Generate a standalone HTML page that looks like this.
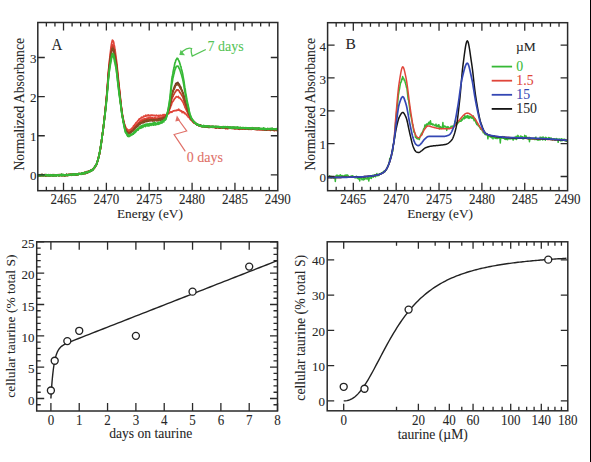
<!DOCTYPE html>
<html><head><meta charset="utf-8"><style>
html,body{margin:0;padding:0;background:#fff;}
body{width:591px;height:462px;overflow:hidden;position:relative;font-family:"Liberation Serif", serif;}
svg{display:block;}
</style></head><body>
<svg width="591" height="462" viewBox="0 0 591 462" font-family='"Liberation Serif", serif'><rect width="591" height="462" fill="#fff"/><defs><clipPath id="ca"><rect x="37.8" y="22.5" width="240" height="168.2"/></clipPath><clipPath id="cb"><rect x="327.6" y="22.7" width="240" height="168"/></clipPath></defs><g clip-path="url(#ca)"><path d="M37.8 174.65 L38.23 176.09 L38.66 175.16 L39.09 175.47 L39.51 175.43 L39.94 175.36 L40.37 175.92 L40.8 175.36 L41.23 175.56 L41.66 174.25 L42.09 175.21 L42.51 175.39 L42.94 175.37 L43.37 175.49 L43.8 175.61 L44.23 175.4 L44.66 175.13 L45.09 175.35 L45.51 174.97 L45.94 175.33 L46.37 175.26 L46.8 174.78 L47.23 175.09 L47.66 175.42 L48.09 175.32 L48.51 175.09 L48.94 174.65 L49.37 175.33 L49.8 175.32 L50.23 174.93 L50.66 175.52 L51.09 175.33 L51.51 174.96 L51.94 175.05 L52.37 175.2 L52.8 175.01 L53.23 176.1 L53.66 174.9 L54.09 175.51 L54.51 175.73 L54.94 175.12 L55.37 174.98 L55.8 175.33 L56.23 175.53 L56.66 175.18 L57.09 175.2 L57.51 174.73 L57.94 174.94 L58.37 175.1 L58.8 174.81 L59.23 175.22 L59.66 175.44 L60.09 174.96 L60.51 174.96 L60.94 175.2 L61.37 175.37 L61.8 175.05 L62.23 175.89 L62.66 174.89 L63.09 174.95 L63.51 175.61 L63.94 175.07 L64.37 175.38 L64.8 174.83 L65.23 175.69 L65.66 175.33 L66.09 174.81 L66.51 174.65 L66.94 175.67 L67.37 175.13 L67.8 174.85 L68.23 175.12 L68.66 174.41 L69.09 175.25 L69.51 174.74 L69.94 175.15 L70.37 174.36 L70.8 174.78 L71.23 174.86 L71.66 175.25 L72.09 174.15 L72.51 174.41 L72.94 174.37 L73.37 174.22 L73.8 174.43 L74.23 174.7 L74.66 174.72 L75.09 174.68 L75.51 173.96 L75.94 174.81 L76.37 174.5 L76.8 174.37 L77.23 174.16 L77.66 174 L78.09 174.53 L78.51 174.62 L78.94 174.03 L79.37 173.59 L79.8 173.67 L80.23 173.78 L80.66 173.88 L81.09 173.62 L81.51 173.71 L81.94 173.31 L82.37 173.73 L82.8 173.36 L83.23 173.35 L83.66 173.06 L84.09 173.07 L84.51 172.24 L84.94 172.47 L85.37 172.37 L85.8 173.37 L86.23 172.72 L86.66 172.68 L87.09 172.19 L87.51 172.93 L87.94 171.7 L88.37 171.57 L88.8 172.14 L89.23 171.86 L89.66 171.61 L90.09 171.14 L90.51 170.74 L90.94 170.07 L91.37 170.53 L91.8 169.96 L92.23 169.87 L92.66 169.03 L93.09 168.96 L93.51 168.34 L93.94 168.62 L94.37 167.82 L94.8 167.43 L95.23 166.07 L95.66 165.65 L96.09 165.21 L96.51 164.38 L96.94 162.99 L97.37 162.08 L97.8 160.7 L98.23 158.67 L98.66 156.35 L99.09 155.41 L99.51 153.53 L99.94 151.48 L100.37 149.04 L100.8 145.76 L101.23 142.8 L101.66 140.06 L102.09 136.87 L102.51 133.78 L102.94 130.5 L103.37 127.57 L103.8 123.61 L104.23 119.65 L104.66 115.99 L105.09 111.8 L105.51 107.69 L105.94 103.18 L106.37 98.33 L106.8 93.78 L107.23 88.12 L107.66 81.92 L108.09 76.06 L108.51 70.09 L108.94 66.23 L109.37 61.15 L109.8 57.88 L110.23 53.93 L110.66 50.09 L111.09 46.69 L111.51 43.86 L111.94 41.95 L112.37 40.14 L112.8 40.4 L113.23 41.01 L113.66 42.17 L114.09 44.67 L114.51 46.34 L114.94 49.5 L115.37 52.04 L115.8 55.56 L116.23 58.7 L116.66 62.05 L117.09 65.77 L117.51 70.34 L117.94 74.32 L118.37 78.74 L118.8 82.41 L119.23 87.06 L119.66 90.45 L120.09 95.09 L120.51 99.35 L120.94 103.37 L121.37 107.41 L121.8 110.55 L122.23 113.37 L122.66 116.15 L123.09 118.13 L123.51 119.8 L123.94 122.05 L124.37 123.7 L124.8 125.25 L125.23 126.81 L125.66 126.92 L126.09 128.4 L126.51 128.29 L126.94 129.08 L127.37 129.22 L127.8 129.98 L128.23 130.46 L128.66 130.18 L129.09 130.41 L129.51 130.12 L129.94 129.8 L130.37 129.54 L130.8 129.19 L131.23 129 L131.66 128.39 L132.09 128.61 L132.51 127.58 L132.94 127.42 L133.37 126.16 L133.8 125.54 L134.23 125.95 L134.66 124.68 L135.09 124.16 L135.51 123.86 L135.94 122.81 L136.37 122.61 L136.8 122.53 L137.23 121.56 L137.66 121.01 L138.09 120.43 L138.51 120.37 L138.94 119.34 L139.37 118.88 L139.8 119.1 L140.23 118.62 L140.66 118.19 L141.09 118.12 L141.51 117.18 L141.94 117.45 L142.37 117.63 L142.8 117.36 L143.23 116.94 L143.66 116.02 L144.09 116.62 L144.51 116.36 L144.94 116.08 L145.37 116.11 L145.8 115.25 L146.23 116.01 L146.66 115.5 L147.09 115.59 L147.51 115.37 L147.94 115.87 L148.37 114.91 L148.8 115.47 L149.23 115.41 L149.66 115.72 L150.09 115.66 L150.51 115.27 L150.94 115.15 L151.37 115.25 L151.8 115.13 L152.23 115.31 L152.66 115.55 L153.09 115.33 L153.51 115.43 L153.94 115.68 L154.37 115.45 L154.8 115.3 L155.23 115.66 L155.66 115.86 L156.09 115.55 L156.51 115.19 L156.94 115.87 L157.37 115.84 L157.8 115.86 L158.23 115.43 L158.66 116.37 L159.09 115.66 L159.51 115.38 L159.94 115.97 L160.37 115.21 L160.8 115.46 L161.23 115.75 L161.66 115.46 L162.09 115.94 L162.51 115.58 L162.94 114.76 L163.37 115.54 L163.8 114.61 L164.23 115.14 L164.66 114.72 L165.09 114.92 L165.51 115.51 L165.94 114.83 L166.37 114.4 L166.8 114.62 L167.23 114.47 L167.66 113.7 L168.09 113.79 L168.51 113.88 L168.94 113.33 L169.37 112.62 L169.8 112.82 L170.23 112.18 L170.66 111.81 L171.09 112.11 L171.51 112.29 L171.94 112.15 L172.37 111.55 L172.8 111.07 L173.23 111.07 L173.66 110.79 L174.09 110.92 L174.51 110.52 L174.94 110.6 L175.37 110.41 L175.8 110.59 L176.23 110.58 L176.66 110.16 L177.09 110.31 L177.51 110.24 L177.94 109.75 L178.37 110.05 L178.8 109.19 L179.23 109.93 L179.66 110.56 L180.09 110.28 L180.51 110.59 L180.94 111.12 L181.37 110.78 L181.8 111.59 L182.23 112.54 L182.66 111.57 L183.09 112.25 L183.51 111.83 L183.94 112.75 L184.37 113.23 L184.8 112.72 L185.23 113.92 L185.66 113.94 L186.09 113.99 L186.51 114.87 L186.94 115.41 L187.37 115.85 L187.8 116.12 L188.23 117.15 L188.66 117.21 L189.09 117.72 L189.51 117.67 L189.94 118.98 L190.37 119.62 L190.8 119.54 L191.23 120.31 L191.66 120.47 L192.09 120.86 L192.51 120.86 L192.94 121.75 L193.37 121.9 L193.8 123 L194.23 122.8 L194.66 122.37 L195.09 123.38 L195.51 123.69 L195.94 124.15 L196.37 123.88 L196.8 124.28 L197.23 124.97 L197.66 124.64 L198.09 124.99 L198.51 125.05 L198.94 125.67 L199.37 125.1 L199.8 125.65 L200.23 125.94 L200.66 126.15 L201.09 126.14 L201.51 125.86 L201.94 126.28 L202.37 125.92 L202.8 126.14 L203.23 125.96 L203.66 126.18 L204.09 126.51 L204.51 127.14 L204.94 126.5 L205.37 126.4 L205.8 126.64 L206.23 126.56 L206.66 126.93 L207.09 126.94 L207.51 127.16 L207.94 126.47 L208.37 126.89 L208.8 127.13 L209.23 127.42 L209.66 127.09 L210.09 126.62 L210.51 126.96 L210.94 127.36 L211.37 126.71 L211.8 126.74 L212.23 126.91 L212.66 127 L213.09 126.91 L213.51 127.13 L213.94 127.08 L214.37 127.59 L214.8 126.9 L215.23 127.33 L215.66 126.79 L216.09 128.09 L216.51 127.25 L216.94 127.19 L217.37 127.63 L217.8 127.41 L218.23 127.34 L218.66 127.42 L219.09 127.8 L219.51 127.7 L219.94 127.36 L220.37 127.3 L220.8 127.7 L221.23 127.73 L221.66 127.71 L222.09 127.47 L222.51 128.15 L222.94 128.26 L223.37 127.82 L223.8 128.23 L224.23 128.09 L224.66 127.9 L225.09 127.8 L225.51 128.3 L225.94 127.74 L226.37 128.56 L226.8 127.86 L227.23 128.54 L227.66 128.46 L228.09 127.88 L228.51 128.23 L228.94 128.37 L229.37 128.28 L229.8 128.01 L230.23 128.19 L230.66 128.2 L231.09 127.88 L231.51 128.45 L231.94 128.39 L232.37 128.43 L232.8 127.91 L233.23 127.99 L233.66 127.91 L234.09 128.34 L234.51 128.4 L234.94 128.1 L235.37 128.51 L235.8 128.14 L236.23 128.19 L236.66 128.65 L237.09 128.48 L237.51 128.51 L237.94 127.95 L238.37 127.7 L238.8 128.55 L239.23 128.54 L239.66 129.27 L240.09 128.51 L240.51 128.6 L240.94 128.95 L241.37 128.39 L241.8 129.14 L242.23 128.74 L242.66 128.64 L243.09 129.1 L243.51 128.46 L243.94 128.42 L244.37 129.2 L244.8 129.23 L245.23 128.62 L245.66 128.83 L246.09 129.22 L246.51 128.96 L246.94 128.92 L247.37 128.95 L247.8 128.66 L248.23 128.82 L248.66 128.41 L249.09 128.55 L249.51 128.79 L249.94 128.68 L250.37 128.63 L250.8 128.84 L251.23 129.46 L251.66 128.83 L252.09 129.1 L252.51 128.63 L252.94 129.13 L253.37 129.01 L253.8 129.09 L254.23 128.69 L254.66 129.18 L255.09 129.34 L255.51 129.18 L255.94 129.43 L256.37 129.26 L256.8 129.34 L257.23 129.27 L257.66 128.77 L258.09 129.52 L258.51 129.4 L258.94 129.49 L259.37 129.24 L259.8 129.84 L260.23 129.71 L260.66 129.52 L261.09 129.36 L261.51 129.56 L261.94 129.72 L262.37 129.86 L262.8 129.45 L263.23 129.18 L263.66 129.55 L264.09 129.61 L264.51 129.55 L264.94 130 L265.37 129.82 L265.8 129.83 L266.23 129.67 L266.66 129.79 L267.09 130.18 L267.51 129.47 L267.94 129.31 L268.37 129.94 L268.8 129.76 L269.23 129.82 L269.66 129.67 L270.09 130.4 L270.51 129.45 L270.94 130.13 L271.37 129.6 L271.8 129.99 L272.23 130.16 L272.66 130.1 L273.09 129.8 L273.51 130.37 L273.94 130.23 L274.37 130.29 L274.8 130.69 L275.23 129.77 L275.66 130.01 L276.09 130.22 L276.51 129.87 L276.94 130.55 L277.37 130.3 L277.8 129.75" stroke="#e0453a" stroke-width="1.7" fill="none" stroke-linejoin="round" opacity="1"/><path d="M37.8 174.98 L38.23 175.99 L38.66 176.33 L39.09 175.62 L39.51 174.96 L39.94 175.44 L40.37 175.36 L40.8 175.1 L41.23 175.56 L41.66 175.22 L42.09 175.04 L42.51 175.14 L42.94 175.16 L43.37 175.47 L43.8 175.12 L44.23 175.41 L44.66 174.87 L45.09 174.47 L45.51 175.5 L45.94 175.95 L46.37 175.4 L46.8 175.15 L47.23 174.94 L47.66 174.92 L48.09 175.5 L48.51 175.5 L48.94 174.86 L49.37 175.59 L49.8 174.91 L50.23 175.32 L50.66 175 L51.09 175.02 L51.51 174.99 L51.94 174.97 L52.37 175.54 L52.8 175.13 L53.23 175.21 L53.66 175.12 L54.09 174.83 L54.51 175.29 L54.94 175.43 L55.37 175.43 L55.8 175.29 L56.23 174.95 L56.66 175.44 L57.09 174.82 L57.51 175.08 L57.94 175.24 L58.37 175.58 L58.8 175.08 L59.23 174.94 L59.66 175.7 L60.09 174.77 L60.51 174.62 L60.94 175.03 L61.37 174.97 L61.8 174.36 L62.23 174.73 L62.66 175.39 L63.09 175.11 L63.51 175.14 L63.94 175.14 L64.37 175.82 L64.8 174.83 L65.23 175.26 L65.66 174.99 L66.09 175.07 L66.51 174.74 L66.94 175.08 L67.37 175.22 L67.8 174.78 L68.23 174.49 L68.66 175.01 L69.09 174.45 L69.51 174.77 L69.94 174.99 L70.37 174.32 L70.8 175.03 L71.23 174.42 L71.66 174.86 L72.09 174.53 L72.51 175.03 L72.94 174.87 L73.37 174.24 L73.8 174.48 L74.23 174.49 L74.66 174.6 L75.09 174.29 L75.51 174.83 L75.94 174.7 L76.37 174.36 L76.8 174.53 L77.23 174.45 L77.66 174.21 L78.09 174.18 L78.51 174.15 L78.94 173.51 L79.37 173.65 L79.8 173.52 L80.23 173.85 L80.66 173.94 L81.09 174.16 L81.51 173.75 L81.94 174.21 L82.37 173.67 L82.8 173.16 L83.23 172.81 L83.66 172.92 L84.09 173.41 L84.51 172.89 L84.94 173.19 L85.37 172.58 L85.8 172.77 L86.23 172.35 L86.66 171.69 L87.09 172.07 L87.51 171.49 L87.94 172.01 L88.37 172.01 L88.8 171.32 L89.23 171.02 L89.66 171.54 L90.09 171.13 L90.51 171.39 L90.94 170.77 L91.37 170.19 L91.8 170.23 L92.23 170.09 L92.66 170.02 L93.09 169.08 L93.51 168.52 L93.94 168.1 L94.37 167.68 L94.8 167.57 L95.23 165.99 L95.66 165.87 L96.09 165.16 L96.51 164.01 L96.94 163.82 L97.37 161.88 L97.8 160.45 L98.23 158.71 L98.66 156.7 L99.09 155.19 L99.51 153.93 L99.94 151.2 L100.37 148.53 L100.8 145.84 L101.23 143.42 L101.66 140.54 L102.09 136.77 L102.51 133.71 L102.94 130.6 L103.37 127.75 L103.8 123.13 L104.23 120.91 L104.66 116.3 L105.09 111.57 L105.51 108.19 L105.94 103.86 L106.37 99.98 L106.8 94.41 L107.23 89.86 L107.66 83.7 L108.09 78.05 L108.51 73.03 L108.94 67.61 L109.37 64.41 L109.8 60.72 L110.23 57.03 L110.66 53.78 L111.09 50.43 L111.51 47.66 L111.94 46.02 L112.37 44.86 L112.8 44.54 L113.23 45.1 L113.66 46.08 L114.09 48.33 L114.51 50.48 L114.94 53.25 L115.37 56.21 L115.8 58.34 L116.23 61.81 L116.66 64.88 L117.09 68.21 L117.51 73.06 L117.94 76.91 L118.37 81.56 L118.8 85.27 L119.23 89.36 L119.66 92.73 L120.09 96.64 L120.51 100.33 L120.94 103.71 L121.37 107.79 L121.8 111.06 L122.23 114.3 L122.66 116.91 L123.09 119.29 L123.51 121.64 L123.94 122.95 L124.37 124.21 L124.8 126.11 L125.23 127.71 L125.66 128.02 L126.09 129.43 L126.51 130.15 L126.94 130.94 L127.37 131.37 L127.8 131.54 L128.23 131.1 L128.66 131.88 L129.09 132.09 L129.51 131.8 L129.94 131.45 L130.37 131.62 L130.8 130.71 L131.23 130.17 L131.66 129.93 L132.09 129.49 L132.51 129.7 L132.94 129.4 L133.37 127.99 L133.8 127.54 L134.23 127.83 L134.66 126.74 L135.09 126.25 L135.51 125.55 L135.94 125.14 L136.37 124.88 L136.8 124.2 L137.23 123.74 L137.66 123.33 L138.09 123.44 L138.51 123.35 L138.94 122.24 L139.37 122.11 L139.8 121.17 L140.23 120.73 L140.66 120.62 L141.09 120.61 L141.51 120.26 L141.94 119.72 L142.37 120.12 L142.8 119.41 L143.23 119.29 L143.66 119.25 L144.09 118.71 L144.51 119.23 L144.94 118.56 L145.37 119 L145.8 118.82 L146.23 118.79 L146.66 118.21 L147.09 118.55 L147.51 118.15 L147.94 118.45 L148.37 117.7 L148.8 117.42 L149.23 117.9 L149.66 117.43 L150.09 117.76 L150.51 117.25 L150.94 117.89 L151.37 118.42 L151.8 117.46 L152.23 117.98 L152.66 118.27 L153.09 118.16 L153.51 118.48 L153.94 118.03 L154.37 118.32 L154.8 117.53 L155.23 117.79 L155.66 118.52 L156.09 118.48 L156.51 118.18 L156.94 118.59 L157.37 118.01 L157.8 117.96 L158.23 118.16 L158.66 118.05 L159.09 117.68 L159.51 117.33 L159.94 117.25 L160.37 117.63 L160.8 117.29 L161.23 117.7 L161.66 117.23 L162.09 117.55 L162.51 116.9 L162.94 117.39 L163.37 117.17 L163.8 116.72 L164.23 116.39 L164.66 116.84 L165.09 116.37 L165.51 115.94 L165.94 115.6 L166.37 115.5 L166.8 114.66 L167.23 114.14 L167.66 112.9 L168.09 112.39 L168.51 112.17 L168.94 111.61 L169.37 110.06 L169.8 108.76 L170.23 107.93 L170.66 106.46 L171.09 105.62 L171.51 104.67 L171.94 102.92 L172.37 102.25 L172.8 101.33 L173.23 101.25 L173.66 100.06 L174.09 99.64 L174.51 98.56 L174.94 98.41 L175.37 97.92 L175.8 97.48 L176.23 96.57 L176.66 96.73 L177.09 96.87 L177.51 96.96 L177.94 97.08 L178.37 96.5 L178.8 97.81 L179.23 97.86 L179.66 97.81 L180.09 98.1 L180.51 99.02 L180.94 99.26 L181.37 99.81 L181.8 100.3 L182.23 101.2 L182.66 101.41 L183.09 102.65 L183.51 103.08 L183.94 104.81 L184.37 105.13 L184.8 106.82 L185.23 107.91 L185.66 108.29 L186.09 109.68 L186.51 110.21 L186.94 111.59 L187.37 111.69 L187.8 113.12 L188.23 114.41 L188.66 114.92 L189.09 115.58 L189.51 116.95 L189.94 117.34 L190.37 117.59 L190.8 118.61 L191.23 119.44 L191.66 120.11 L192.09 120.21 L192.51 121.29 L192.94 122.19 L193.37 121.86 L193.8 122.38 L194.23 121.87 L194.66 122.74 L195.09 123.43 L195.51 123.81 L195.94 123.6 L196.37 124.29 L196.8 124.48 L197.23 124.57 L197.66 124.75 L198.09 124.97 L198.51 125.16 L198.94 124.97 L199.37 125.01 L199.8 126.2 L200.23 124.99 L200.66 125.85 L201.09 125.58 L201.51 126.27 L201.94 126 L202.37 126.1 L202.8 126.19 L203.23 126.01 L203.66 126.13 L204.09 126.69 L204.51 126.46 L204.94 126.24 L205.37 126.3 L205.8 126.66 L206.23 126.68 L206.66 126.68 L207.09 127.02 L207.51 127.11 L207.94 126.25 L208.37 126.9 L208.8 126.78 L209.23 127.07 L209.66 126.46 L210.09 126.34 L210.51 126.99 L210.94 126.78 L211.37 127.21 L211.8 126.44 L212.23 126.73 L212.66 127.31 L213.09 126.68 L213.51 126.98 L213.94 126.99 L214.37 127.03 L214.8 127.37 L215.23 127.35 L215.66 127.01 L216.09 127.25 L216.51 127.55 L216.94 126.64 L217.37 127.37 L217.8 127.5 L218.23 127.57 L218.66 127.16 L219.09 127.1 L219.51 127.35 L219.94 127.18 L220.37 127.94 L220.8 127.61 L221.23 127.67 L221.66 127.54 L222.09 127.41 L222.51 128.22 L222.94 126.63 L223.37 127.9 L223.8 127.54 L224.23 127.41 L224.66 127.43 L225.09 127.64 L225.51 128.65 L225.94 128.1 L226.37 127.54 L226.8 128.08 L227.23 128.15 L227.66 128.57 L228.09 127.47 L228.51 127.72 L228.94 128.17 L229.37 127.96 L229.8 127.97 L230.23 128.3 L230.66 128.06 L231.09 127.91 L231.51 127.84 L231.94 127.63 L232.37 128.04 L232.8 128.21 L233.23 127.96 L233.66 128.3 L234.09 128.51 L234.51 127.78 L234.94 128.28 L235.37 128.14 L235.8 127.99 L236.23 128.56 L236.66 128.03 L237.09 128.1 L237.51 128.29 L237.94 128.16 L238.37 128.54 L238.8 129.01 L239.23 128.42 L239.66 128.64 L240.09 128.1 L240.51 128.31 L240.94 128.57 L241.37 128.41 L241.8 128.02 L242.23 128.11 L242.66 128.36 L243.09 128.36 L243.51 128.6 L243.94 128.58 L244.37 128.37 L244.8 128.61 L245.23 128.5 L245.66 128.96 L246.09 129.15 L246.51 129.18 L246.94 128.81 L247.37 128.27 L247.8 128.34 L248.23 129.04 L248.66 129.23 L249.09 128.51 L249.51 128.64 L249.94 129.23 L250.37 128.49 L250.8 128.78 L251.23 128.44 L251.66 128.77 L252.09 128.61 L252.51 128.81 L252.94 129.23 L253.37 129.02 L253.8 129.18 L254.23 128.73 L254.66 129.32 L255.09 129.5 L255.51 128.83 L255.94 128.7 L256.37 128.63 L256.8 128.76 L257.23 129.59 L257.66 129.35 L258.09 129.33 L258.51 129.18 L258.94 129.86 L259.37 129.21 L259.8 129.14 L260.23 129.54 L260.66 129.23 L261.09 128.91 L261.51 129.29 L261.94 128.99 L262.37 129.02 L262.8 129.23 L263.23 129.25 L263.66 129.51 L264.09 129.02 L264.51 129.58 L264.94 129.67 L265.37 129.24 L265.8 129.71 L266.23 129.37 L266.66 129.19 L267.09 129.51 L267.51 129.52 L267.94 129.29 L268.37 129.36 L268.8 130.09 L269.23 130.04 L269.66 129.23 L270.09 129.54 L270.51 130.33 L270.94 130.12 L271.37 129.71 L271.8 130.04 L272.23 129.6 L272.66 129.74 L273.09 129.63 L273.51 130.17 L273.94 129.63 L274.37 129.23 L274.8 130.11 L275.23 129.46 L275.66 129.58 L276.09 129.71 L276.51 129.95 L276.94 130.31 L277.37 130.24 L277.8 129.74" stroke="#e0453a" stroke-width="1.7" fill="none" stroke-linejoin="round" opacity="1"/><path d="M37.8 174.98 L38.23 174.9 L38.66 174.98 L39.09 175 L39.51 175.42 L39.94 175.66 L40.37 175.22 L40.8 175.12 L41.23 175.25 L41.66 175.76 L42.09 175.44 L42.51 175.74 L42.94 175.23 L43.37 175.6 L43.8 175.32 L44.23 175.17 L44.66 175.23 L45.09 174.84 L45.51 175.61 L45.94 175.95 L46.37 174.96 L46.8 174.82 L47.23 174.81 L47.66 175.16 L48.09 175.08 L48.51 175.21 L48.94 175.65 L49.37 175.42 L49.8 175.08 L50.23 175.42 L50.66 174.63 L51.09 175.71 L51.51 175.36 L51.94 174.87 L52.37 175.41 L52.8 175.57 L53.23 175.64 L53.66 175.43 L54.09 174.73 L54.51 175.07 L54.94 175.03 L55.37 175.35 L55.8 174.92 L56.23 175.15 L56.66 175.46 L57.09 175.31 L57.51 175.1 L57.94 174.79 L58.37 175.17 L58.8 174.99 L59.23 174.51 L59.66 175.39 L60.09 175.52 L60.51 174.82 L60.94 174.98 L61.37 175.15 L61.8 175.03 L62.23 175.21 L62.66 174.94 L63.09 175.2 L63.51 174.83 L63.94 175.44 L64.37 175.32 L64.8 175.02 L65.23 175.19 L65.66 174.81 L66.09 175.03 L66.51 175.17 L66.94 174.92 L67.37 175.13 L67.8 175.43 L68.23 175.27 L68.66 175.14 L69.09 175.02 L69.51 174.81 L69.94 174.53 L70.37 174.61 L70.8 174.2 L71.23 174.33 L71.66 174.75 L72.09 174.14 L72.51 174.26 L72.94 174.74 L73.37 174.46 L73.8 174.18 L74.23 174.41 L74.66 174.13 L75.09 174.29 L75.51 174.16 L75.94 174.44 L76.37 174.18 L76.8 174.37 L77.23 174 L77.66 174.7 L78.09 174.02 L78.51 173.68 L78.94 173.83 L79.37 173.96 L79.8 173.73 L80.23 174.1 L80.66 174.02 L81.09 173.81 L81.51 173.67 L81.94 173.24 L82.37 173.75 L82.8 173.07 L83.23 173.79 L83.66 173.46 L84.09 173.13 L84.51 172.66 L84.94 173.12 L85.37 173.5 L85.8 172.59 L86.23 172.61 L86.66 172.82 L87.09 172.67 L87.51 172.42 L87.94 172.02 L88.37 171.69 L88.8 172.19 L89.23 170.82 L89.66 171.36 L90.09 171.26 L90.51 170.71 L90.94 170.66 L91.37 169.72 L91.8 169.85 L92.23 170.02 L92.66 169.69 L93.09 169.34 L93.51 168.86 L93.94 168.06 L94.37 167.95 L94.8 166.66 L95.23 166.55 L95.66 165.89 L96.09 164.81 L96.51 164.84 L96.94 163.42 L97.37 161.66 L97.8 160.39 L98.23 158.82 L98.66 156.99 L99.09 155.51 L99.51 153.39 L99.94 151.5 L100.37 149.15 L100.8 145.46 L101.23 143.27 L101.66 140.21 L102.09 136.48 L102.51 133.47 L102.94 130.77 L103.37 127.43 L103.8 123.8 L104.23 120.45 L104.66 116.22 L105.09 112.45 L105.51 108.45 L105.94 104.12 L106.37 99.89 L106.8 94.84 L107.23 89.67 L107.66 85.11 L108.09 78.72 L108.51 74.07 L108.94 69.48 L109.37 65 L109.8 62.11 L110.23 58.63 L110.66 54.96 L111.09 52.55 L111.51 50.1 L111.94 47.78 L112.37 46.32 L112.8 46.24 L113.23 47.47 L113.66 48.48 L114.09 50.18 L114.51 51.79 L114.94 54.64 L115.37 57.27 L115.8 59.74 L116.23 63.03 L116.66 66.12 L117.09 69.84 L117.51 74.29 L117.94 78.11 L118.37 82.04 L118.8 86.53 L119.23 89.64 L119.66 93.28 L120.09 96.93 L120.51 101.26 L120.94 104.69 L121.37 107.83 L121.8 111.35 L122.23 114.82 L122.66 117.06 L123.09 118.93 L123.51 121.47 L123.94 123.26 L124.37 124.37 L124.8 126.8 L125.23 128.19 L125.66 129.53 L126.09 130.22 L126.51 130.21 L126.94 131.33 L127.37 132.18 L127.8 132.5 L128.23 132.47 L128.66 132.33 L129.09 132.75 L129.51 132.15 L129.94 132.31 L130.37 131.76 L130.8 131.39 L131.23 131.02 L131.66 131 L132.09 130.58 L132.51 130.02 L132.94 130.18 L133.37 129.27 L133.8 128.69 L134.23 128.02 L134.66 127.84 L135.09 127.37 L135.51 126.76 L135.94 126.55 L136.37 125.92 L136.8 125.28 L137.23 124.86 L137.66 124.82 L138.09 124.15 L138.51 124.28 L138.94 122.97 L139.37 123.01 L139.8 122.43 L140.23 122.56 L140.66 122 L141.09 121.63 L141.51 121.26 L141.94 121.8 L142.37 120.91 L142.8 121.04 L143.23 121.05 L143.66 120.49 L144.09 120.57 L144.51 120.41 L144.94 120.39 L145.37 119.96 L145.8 119.88 L146.23 119.83 L146.66 119.96 L147.09 119.72 L147.51 119.35 L147.94 119 L148.37 119.34 L148.8 118.84 L149.23 119.25 L149.66 119.56 L150.09 118.99 L150.51 119.48 L150.94 119.04 L151.37 118.82 L151.8 119.25 L152.23 119.18 L152.66 118.37 L153.09 119.07 L153.51 119.07 L153.94 118.9 L154.37 119.18 L154.8 119.17 L155.23 119.02 L155.66 119.88 L156.09 118.68 L156.51 119.44 L156.94 119.42 L157.37 118.89 L157.8 119.02 L158.23 119.37 L158.66 118.86 L159.09 119.23 L159.51 119.02 L159.94 119.19 L160.37 118.88 L160.8 118.4 L161.23 118.37 L161.66 118.19 L162.09 117.86 L162.51 118.02 L162.94 118.05 L163.37 117.76 L163.8 116.97 L164.23 117.28 L164.66 116.98 L165.09 116.88 L165.51 116.5 L165.94 116.06 L166.37 115.63 L166.8 114.96 L167.23 114.31 L167.66 113.37 L168.09 111.94 L168.51 110.73 L168.94 109.54 L169.37 108.68 L169.8 107.62 L170.23 105.55 L170.66 103.78 L171.09 102.62 L171.51 100.15 L171.94 98.68 L172.37 97.13 L172.8 97 L173.23 96.06 L173.66 94.45 L174.09 94.33 L174.51 93.14 L174.94 92.47 L175.37 91.76 L175.8 91.46 L176.23 90.49 L176.66 89.81 L177.09 89.83 L177.51 89.86 L177.94 90.26 L178.37 89.98 L178.8 90.65 L179.23 90.96 L179.66 92.32 L180.09 92.34 L180.51 93.47 L180.94 93.7 L181.37 94.46 L181.8 95.59 L182.23 95.98 L182.66 96.62 L183.09 97.89 L183.51 99.01 L183.94 100.7 L184.37 101.93 L184.8 103.39 L185.23 104.33 L185.66 105.31 L186.09 106.79 L186.51 108.09 L186.94 109.56 L187.37 110.22 L187.8 111.59 L188.23 113.25 L188.66 114.31 L189.09 114.96 L189.51 116.16 L189.94 116.31 L190.37 117.68 L190.8 118.77 L191.23 119.24 L191.66 119.15 L192.09 120.45 L192.51 120.4 L192.94 120.97 L193.37 121.1 L193.8 121.82 L194.23 122.52 L194.66 122.61 L195.09 123.11 L195.51 123.16 L195.94 123.79 L196.37 123.43 L196.8 124.33 L197.23 124.41 L197.66 124.98 L198.09 124.94 L198.51 125.17 L198.94 125.3 L199.37 125.24 L199.8 125.82 L200.23 126.04 L200.66 125.53 L201.09 126.04 L201.51 126.23 L201.94 125.73 L202.37 125.91 L202.8 127.03 L203.23 126.37 L203.66 126.06 L204.09 126.09 L204.51 126.56 L204.94 125.95 L205.37 126.73 L205.8 126.59 L206.23 126.52 L206.66 126.59 L207.09 126.38 L207.51 126.34 L207.94 126.7 L208.37 126.29 L208.8 126.96 L209.23 126.84 L209.66 126.27 L210.09 126.8 L210.51 126.52 L210.94 127.01 L211.37 126.99 L211.8 126.96 L212.23 126.9 L212.66 127.08 L213.09 126.99 L213.51 126.81 L213.94 126.66 L214.37 127.02 L214.8 126.88 L215.23 126.82 L215.66 127.46 L216.09 127.63 L216.51 126.66 L216.94 126.78 L217.37 127.2 L217.8 127.13 L218.23 127.55 L218.66 127.72 L219.09 127.21 L219.51 127.8 L219.94 127.07 L220.37 127.59 L220.8 127.31 L221.23 126.82 L221.66 126.86 L222.09 127.55 L222.51 127.16 L222.94 127.83 L223.37 127.71 L223.8 127.44 L224.23 127.14 L224.66 127.77 L225.09 127.45 L225.51 127.6 L225.94 128.05 L226.37 127.72 L226.8 127.23 L227.23 127.75 L227.66 127.58 L228.09 127.5 L228.51 128 L228.94 127.41 L229.37 127.34 L229.8 127.33 L230.23 127.44 L230.66 128.01 L231.09 128.07 L231.51 128.15 L231.94 128.21 L232.37 128.19 L232.8 127.65 L233.23 127.52 L233.66 128.2 L234.09 127.76 L234.51 128.43 L234.94 128.16 L235.37 128.38 L235.8 128.6 L236.23 128.09 L236.66 128.1 L237.09 128.27 L237.51 128.33 L237.94 128.49 L238.37 128.24 L238.8 128.4 L239.23 128.16 L239.66 128.63 L240.09 128.2 L240.51 128.13 L240.94 127.92 L241.37 128 L241.8 128.28 L242.23 128.58 L242.66 128.95 L243.09 128.4 L243.51 127.98 L243.94 127.92 L244.37 129.25 L244.8 128.71 L245.23 128.6 L245.66 128.84 L246.09 128.47 L246.51 128.54 L246.94 128.73 L247.37 128.6 L247.8 129.1 L248.23 128.93 L248.66 128.92 L249.09 128.38 L249.51 129.19 L249.94 128.76 L250.37 128.47 L250.8 128.75 L251.23 128.5 L251.66 128.97 L252.09 128.65 L252.51 128.52 L252.94 128.12 L253.37 128.61 L253.8 128.41 L254.23 128.87 L254.66 128.86 L255.09 128.42 L255.51 128.75 L255.94 128.5 L256.37 128.74 L256.8 128.32 L257.23 128.26 L257.66 129.28 L258.09 128.45 L258.51 128.92 L258.94 128.92 L259.37 129.12 L259.8 128.88 L260.23 129.47 L260.66 129.37 L261.09 129.4 L261.51 129.08 L261.94 128.9 L262.37 128.98 L262.8 129.11 L263.23 129.43 L263.66 129.81 L264.09 129.15 L264.51 129.25 L264.94 129.2 L265.37 128.88 L265.8 129.41 L266.23 129.43 L266.66 130.11 L267.09 129.23 L267.51 129.43 L267.94 129.67 L268.37 129.33 L268.8 129.8 L269.23 129.66 L269.66 128.89 L270.09 129.29 L270.51 129.25 L270.94 129.32 L271.37 129.37 L271.8 129.53 L272.23 128.89 L272.66 129.65 L273.09 129.41 L273.51 129.73 L273.94 129.79 L274.37 130.46 L274.8 130.31 L275.23 129.24 L275.66 129.28 L276.09 129.9 L276.51 129.79 L276.94 129.6 L277.37 130.12 L277.8 129.27" stroke="#c8402c" stroke-width="1.7" fill="none" stroke-linejoin="round" opacity="1"/><path d="M37.8 175.61 L38.23 175.51 L38.66 176.15 L39.09 174.81 L39.51 175.27 L39.94 174.78 L40.37 175.6 L40.8 175.18 L41.23 175.26 L41.66 175.22 L42.09 174.63 L42.51 174.57 L42.94 174.85 L43.37 175.4 L43.8 175 L44.23 174.85 L44.66 175.1 L45.09 175.09 L45.51 175.12 L45.94 175.55 L46.37 175.19 L46.8 174.76 L47.23 175.57 L47.66 175.23 L48.09 174.99 L48.51 175.68 L48.94 175.29 L49.37 175.78 L49.8 175.43 L50.23 175.68 L50.66 175.52 L51.09 175.39 L51.51 175.32 L51.94 175.29 L52.37 175.98 L52.8 174.72 L53.23 175.3 L53.66 175.56 L54.09 175.41 L54.51 175.11 L54.94 175.52 L55.37 175.33 L55.8 175.34 L56.23 175.02 L56.66 175.42 L57.09 175.04 L57.51 175.07 L57.94 175.22 L58.37 174.78 L58.8 175.15 L59.23 175.52 L59.66 175.06 L60.09 175.1 L60.51 175.15 L60.94 175.06 L61.37 174.39 L61.8 175.05 L62.23 174.97 L62.66 175.19 L63.09 174.69 L63.51 175.11 L63.94 175.34 L64.37 175.46 L64.8 174.9 L65.23 174.82 L65.66 175.54 L66.09 175.25 L66.51 174.81 L66.94 174.67 L67.37 175.39 L67.8 175.08 L68.23 174.67 L68.66 175.07 L69.09 175.02 L69.51 175.02 L69.94 175.24 L70.37 174.78 L70.8 174.67 L71.23 175.18 L71.66 174.68 L72.09 174.33 L72.51 174.58 L72.94 174.31 L73.37 174.75 L73.8 174.11 L74.23 174.75 L74.66 173.88 L75.09 174.57 L75.51 174.62 L75.94 174.63 L76.37 174.44 L76.8 174.43 L77.23 174.45 L77.66 174.29 L78.09 173.93 L78.51 173.81 L78.94 174.13 L79.37 173.58 L79.8 174.22 L80.23 174.17 L80.66 174.13 L81.09 173.52 L81.51 174.12 L81.94 174 L82.37 173.08 L82.8 172.87 L83.23 172.9 L83.66 173.7 L84.09 173.13 L84.51 172.78 L84.94 172.92 L85.37 173.35 L85.8 172.84 L86.23 173.15 L86.66 172.88 L87.09 171.69 L87.51 172.01 L87.94 172.53 L88.37 172.38 L88.8 171.6 L89.23 171.75 L89.66 171.18 L90.09 171.36 L90.51 171 L90.94 170.64 L91.37 170.79 L91.8 170.81 L92.23 170.29 L92.66 169.8 L93.09 169.26 L93.51 168.79 L93.94 168.31 L94.37 167.6 L94.8 167.46 L95.23 166.11 L95.66 165.23 L96.09 165.01 L96.51 164.18 L96.94 162.76 L97.37 161.66 L97.8 160.36 L98.23 158.88 L98.66 157.36 L99.09 155.71 L99.51 153.15 L99.94 150.71 L100.37 148.9 L100.8 145.87 L101.23 142.9 L101.66 140.11 L102.09 137.15 L102.51 133.94 L102.94 131.27 L103.37 127.37 L103.8 124 L104.23 119.68 L104.66 116.35 L105.09 112.93 L105.51 108.89 L105.94 104.3 L106.37 100.17 L106.8 96.02 L107.23 90.95 L107.66 85.91 L108.09 80.11 L108.51 74.91 L108.94 70.53 L109.37 66.07 L109.8 63.99 L110.23 60.23 L110.66 56.96 L111.09 54.13 L111.51 51.34 L111.94 50.46 L112.37 49.13 L112.8 48.58 L113.23 49.13 L113.66 50.53 L114.09 52.42 L114.51 54.01 L114.94 57.1 L115.37 59.47 L115.8 61.33 L116.23 63.97 L116.66 67.51 L117.09 71.72 L117.51 75.65 L117.94 79.72 L118.37 83.84 L118.8 87.52 L119.23 90.61 L119.66 94.45 L120.09 98.36 L120.51 102 L120.94 105.69 L121.37 108.38 L121.8 112.61 L122.23 114.83 L122.66 117.94 L123.09 120.1 L123.51 122.34 L123.94 123.55 L124.37 125.74 L124.8 126.54 L125.23 129.17 L125.66 130.32 L126.09 130.63 L126.51 131.31 L126.94 132.19 L127.37 133.27 L127.8 132.6 L128.23 133.14 L128.66 133.29 L129.09 133.55 L129.51 133.03 L129.94 133.19 L130.37 132.74 L130.8 132.51 L131.23 131.73 L131.66 131.95 L132.09 131.59 L132.51 130.81 L132.94 130.71 L133.37 130.37 L133.8 129.99 L134.23 129.15 L134.66 129.17 L135.09 128.34 L135.51 127.37 L135.94 127.41 L136.37 127.34 L136.8 127.03 L137.23 126.17 L137.66 126.16 L138.09 125.85 L138.51 125.18 L138.94 124.9 L139.37 123.93 L139.8 124.33 L140.23 123.1 L140.66 123.6 L141.09 123.13 L141.51 122.75 L141.94 122.7 L142.37 122.36 L142.8 122.71 L143.23 122.94 L143.66 122.12 L144.09 122.42 L144.51 121.92 L144.94 121.3 L145.37 121.52 L145.8 121.51 L146.23 121.56 L146.66 121.18 L147.09 121.04 L147.51 121.39 L147.94 120.72 L148.37 121.08 L148.8 120.61 L149.23 120.77 L149.66 120.28 L150.09 120.29 L150.51 120.53 L150.94 120.54 L151.37 120.35 L151.8 120.04 L152.23 120.13 L152.66 120.4 L153.09 120.34 L153.51 119.93 L153.94 120.93 L154.37 120.24 L154.8 120.67 L155.23 119.95 L155.66 120.51 L156.09 120.37 L156.51 120.64 L156.94 120.26 L157.37 119.98 L157.8 119.66 L158.23 120.52 L158.66 120.19 L159.09 118.75 L159.51 119.6 L159.94 119.79 L160.37 119.52 L160.8 120.39 L161.23 118.92 L161.66 119.23 L162.09 119.56 L162.51 118.57 L162.94 118.94 L163.37 118.85 L163.8 118.14 L164.23 117.94 L164.66 117.95 L165.09 117.55 L165.51 117.63 L165.94 117.2 L166.37 115.76 L166.8 114.73 L167.23 113.92 L167.66 112.72 L168.09 111.63 L168.51 110.14 L168.94 108.94 L169.37 106.63 L169.8 105.63 L170.23 103.2 L170.66 100.98 L171.09 99 L171.51 95.65 L171.94 94.34 L172.37 92.9 L172.8 91.33 L173.23 90.37 L173.66 88.84 L174.09 87.96 L174.51 86.38 L174.94 85.53 L175.37 85.09 L175.8 83.59 L176.23 83.28 L176.66 83.31 L177.09 82.68 L177.51 82.69 L177.94 82.45 L178.37 83.66 L178.8 83.61 L179.23 84.51 L179.66 84.99 L180.09 86.04 L180.51 86.81 L180.94 87.5 L181.37 88.93 L181.8 90.11 L182.23 90.45 L182.66 91.79 L183.09 92.98 L183.51 94.29 L183.94 96.14 L184.37 97.34 L184.8 99.41 L185.23 101.03 L185.66 102.42 L186.09 104.04 L186.51 105.66 L186.94 106.95 L187.37 108.6 L187.8 109.95 L188.23 111.09 L188.66 112.21 L189.09 113.89 L189.51 114.7 L189.94 115.47 L190.37 116.42 L190.8 117.96 L191.23 118.35 L191.66 119.11 L192.09 119.63 L192.51 120.16 L192.94 120.77 L193.37 121.17 L193.8 121.83 L194.23 122.41 L194.66 122.65 L195.09 122.95 L195.51 123.06 L195.94 123.64 L196.37 123.79 L196.8 123.83 L197.23 124.8 L197.66 124.81 L198.09 124.77 L198.51 125.12 L198.94 125.62 L199.37 125.15 L199.8 125.62 L200.23 126.03 L200.66 125.22 L201.09 126.3 L201.51 125.98 L201.94 126.25 L202.37 126.07 L202.8 125.97 L203.23 126.46 L203.66 126.28 L204.09 126.33 L204.51 126.65 L204.94 126.01 L205.37 126.36 L205.8 126.54 L206.23 126.69 L206.66 126.62 L207.09 126.51 L207.51 126.73 L207.94 126.22 L208.37 127.44 L208.8 127.34 L209.23 126.77 L209.66 127.3 L210.09 126.76 L210.51 126.97 L210.94 126.61 L211.37 126.68 L211.8 126.42 L212.23 126.56 L212.66 126.48 L213.09 126.73 L213.51 126.58 L213.94 126.78 L214.37 127.14 L214.8 127.37 L215.23 127.37 L215.66 126.86 L216.09 127.78 L216.51 127 L216.94 127.31 L217.37 126.87 L217.8 127.06 L218.23 127.38 L218.66 127.17 L219.09 127.91 L219.51 127.13 L219.94 127.09 L220.37 127.84 L220.8 127.01 L221.23 127.34 L221.66 127.27 L222.09 127.79 L222.51 127.18 L222.94 127.21 L223.37 127.42 L223.8 127.74 L224.23 127.21 L224.66 127.08 L225.09 127.37 L225.51 127.2 L225.94 127.72 L226.37 127.5 L226.8 127.45 L227.23 127.55 L227.66 126.73 L228.09 127.5 L228.51 127.82 L228.94 127.41 L229.37 128.03 L229.8 127.59 L230.23 127.48 L230.66 127.89 L231.09 127.86 L231.51 128.07 L231.94 127.75 L232.37 128.02 L232.8 127.29 L233.23 127.65 L233.66 127.94 L234.09 128.33 L234.51 127.26 L234.94 127.51 L235.37 127.79 L235.8 127.89 L236.23 127.92 L236.66 128.14 L237.09 127.42 L237.51 127.96 L237.94 128.5 L238.37 128.27 L238.8 128.89 L239.23 127.89 L239.66 127.88 L240.09 127.58 L240.51 127.5 L240.94 128.42 L241.37 128.05 L241.8 127.9 L242.23 127.98 L242.66 128.4 L243.09 128.01 L243.51 128.13 L243.94 127.87 L244.37 128.33 L244.8 128.41 L245.23 128.51 L245.66 128.49 L246.09 128.63 L246.51 128.52 L246.94 128.27 L247.37 128.3 L247.8 128.05 L248.23 128.14 L248.66 128.3 L249.09 128.88 L249.51 128.36 L249.94 128.19 L250.37 128.98 L250.8 128.94 L251.23 128.91 L251.66 128.96 L252.09 128.74 L252.51 128.96 L252.94 128.56 L253.37 129.08 L253.8 128.76 L254.23 128.9 L254.66 129.06 L255.09 128.45 L255.51 128.78 L255.94 128.64 L256.37 128.93 L256.8 128.62 L257.23 128.67 L257.66 128.93 L258.09 129.45 L258.51 128.66 L258.94 128.71 L259.37 128.89 L259.8 128.89 L260.23 128.94 L260.66 128.94 L261.09 129.33 L261.51 129.05 L261.94 128.95 L262.37 129.26 L262.8 129.39 L263.23 128.52 L263.66 128.93 L264.09 129.23 L264.51 129.31 L264.94 130 L265.37 129.63 L265.8 129.28 L266.23 128.81 L266.66 129.88 L267.09 129.47 L267.51 128.67 L267.94 129.07 L268.37 129.17 L268.8 128.94 L269.23 129.37 L269.66 129.4 L270.09 129.14 L270.51 129.11 L270.94 129.73 L271.37 128.94 L271.8 129.98 L272.23 129.66 L272.66 128.5 L273.09 129.64 L273.51 129.29 L273.94 129.82 L274.37 129.63 L274.8 129.77 L275.23 129.68 L275.66 129.37 L276.09 129.04 L276.51 129.33 L276.94 129.13 L277.37 129.79 L277.8 129.19" stroke="#6b3b1e" stroke-width="1.7" fill="none" stroke-linejoin="round" opacity="1"/><path d="M37.8 175.09 L38.23 174.84 L38.66 175.4 L39.09 175.34 L39.51 174.84 L39.94 175.08 L40.37 175.24 L40.8 175.48 L41.23 175.3 L41.66 175.12 L42.09 175.04 L42.51 175.44 L42.94 175.37 L43.37 175.13 L43.8 175.61 L44.23 174.97 L44.66 175.27 L45.09 175.31 L45.51 176.02 L45.94 175.76 L46.37 175.59 L46.8 175.45 L47.23 175.61 L47.66 175.14 L48.09 175.22 L48.51 175.34 L48.94 175.89 L49.37 174.81 L49.8 175.33 L50.23 175.06 L50.66 175.45 L51.09 175.24 L51.51 175.02 L51.94 175.16 L52.37 174.93 L52.8 175.28 L53.23 174.6 L53.66 175.81 L54.09 175.39 L54.51 174.9 L54.94 175.28 L55.37 175.34 L55.8 175.75 L56.23 174.82 L56.66 175.78 L57.09 175.02 L57.51 175.12 L57.94 174.9 L58.37 174.71 L58.8 175.38 L59.23 175.41 L59.66 175.25 L60.09 175.69 L60.51 174.89 L60.94 175.26 L61.37 175.08 L61.8 175.48 L62.23 175.12 L62.66 175.31 L63.09 175.13 L63.51 175.45 L63.94 174.78 L64.37 175.29 L64.8 175.88 L65.23 174.87 L65.66 175.15 L66.09 175.32 L66.51 174.24 L66.94 175.02 L67.37 175.4 L67.8 175.16 L68.23 174.82 L68.66 174.99 L69.09 174.5 L69.51 174.53 L69.94 175.09 L70.37 174.8 L70.8 174.58 L71.23 174.88 L71.66 174.87 L72.09 174.41 L72.51 174.51 L72.94 175.06 L73.37 174.76 L73.8 174.68 L74.23 174.55 L74.66 174.7 L75.09 174.02 L75.51 174.71 L75.94 174.7 L76.37 174.26 L76.8 174.99 L77.23 174.57 L77.66 174 L78.09 174.56 L78.51 174.36 L78.94 173.7 L79.37 173.84 L79.8 173.9 L80.23 173.78 L80.66 174 L81.09 173.62 L81.51 173.71 L81.94 172.79 L82.37 173.32 L82.8 173.52 L83.23 173.34 L83.66 173.22 L84.09 173.58 L84.51 173.31 L84.94 172.47 L85.37 173.29 L85.8 172.92 L86.23 172.3 L86.66 172.03 L87.09 172.69 L87.51 171.77 L87.94 172.19 L88.37 171.4 L88.8 171.59 L89.23 171.65 L89.66 171.14 L90.09 170.99 L90.51 171.19 L90.94 170.04 L91.37 170.58 L91.8 169.85 L92.23 170.07 L92.66 170.16 L93.09 169.55 L93.51 168.8 L93.94 168.08 L94.37 167.21 L94.8 167.15 L95.23 166.64 L95.66 166.25 L96.09 165.14 L96.51 164.15 L96.94 163.84 L97.37 161.45 L97.8 160.06 L98.23 158.12 L98.66 157.41 L99.09 155.33 L99.51 153.35 L99.94 151.5 L100.37 148.84 L100.8 146.16 L101.23 142.82 L101.66 139.85 L102.09 136.5 L102.51 133.95 L102.94 131.08 L103.37 127.2 L103.8 123.77 L104.23 120.09 L104.66 116.2 L105.09 112.94 L105.51 108.56 L105.94 105.05 L106.37 100.51 L106.8 95.72 L107.23 90.78 L107.66 85.2 L108.09 80.23 L108.51 74.82 L108.94 69.99 L109.37 66.7 L109.8 63.36 L110.23 59.07 L110.66 56.63 L111.09 54.12 L111.51 51.76 L111.94 49.14 L112.37 49.31 L112.8 48.26 L113.23 48.53 L113.66 50.15 L114.09 51.61 L114.51 54.29 L114.94 56.41 L115.37 58.94 L115.8 61.45 L116.23 64.17 L116.66 67.48 L117.09 70.82 L117.51 75.2 L117.94 79.37 L118.37 83.34 L118.8 87.27 L119.23 91.29 L119.66 94.94 L120.09 98.4 L120.51 101.55 L120.94 105.44 L121.37 108.82 L121.8 111.04 L122.23 114.53 L122.66 117.52 L123.09 119.92 L123.51 121.39 L123.94 124.03 L124.37 125.25 L124.8 127.12 L125.23 128.3 L125.66 130.08 L126.09 130.39 L126.51 131.92 L126.94 132.02 L127.37 132.16 L127.8 132.69 L128.23 133.75 L128.66 133.05 L129.09 133.08 L129.51 133.1 L129.94 133.09 L130.37 132.69 L130.8 132.47 L131.23 131.67 L131.66 131.49 L132.09 130.98 L132.51 130.76 L132.94 131 L133.37 130.13 L133.8 129.05 L134.23 129.59 L134.66 128.67 L135.09 128.51 L135.51 128.06 L135.94 127.24 L136.37 126.57 L136.8 126.18 L137.23 125.83 L137.66 125.24 L138.09 125.61 L138.51 124.43 L138.94 124.17 L139.37 124 L139.8 123.62 L140.23 123.6 L140.66 122.73 L141.09 123.13 L141.51 123.15 L141.94 122.5 L142.37 122.49 L142.8 122.15 L143.23 121.47 L143.66 121.82 L144.09 121.58 L144.51 120.75 L144.94 121.75 L145.37 121.06 L145.8 120.68 L146.23 120.45 L146.66 120.1 L147.09 120.91 L147.51 120.42 L147.94 120.56 L148.37 120.6 L148.8 120.63 L149.23 120.81 L149.66 120.21 L150.09 120.05 L150.51 120.59 L150.94 120 L151.37 120.4 L151.8 120.53 L152.23 121.02 L152.66 119.84 L153.09 119.96 L153.51 120.28 L153.94 120.29 L154.37 120.57 L154.8 119.99 L155.23 120.16 L155.66 119.95 L156.09 120.04 L156.51 120.52 L156.94 120.53 L157.37 119.87 L157.8 120.49 L158.23 119.82 L158.66 119.56 L159.09 120.17 L159.51 119.47 L159.94 119.58 L160.37 119.31 L160.8 119.56 L161.23 119.24 L161.66 118.95 L162.09 118.35 L162.51 118.53 L162.94 118.41 L163.37 118.78 L163.8 118.05 L164.23 118.13 L164.66 117.69 L165.09 117.31 L165.51 116.78 L165.94 116.46 L166.37 115.91 L166.8 115.12 L167.23 113.65 L167.66 113.19 L168.09 111.63 L168.51 109.87 L168.94 108.98 L169.37 107.26 L169.8 105.6 L170.23 103.24 L170.66 101.27 L171.09 99.86 L171.51 97.16 L171.94 95.14 L172.37 93.48 L172.8 92.39 L173.23 90.7 L173.66 89.77 L174.09 89.36 L174.51 88.13 L174.94 87.63 L175.37 85.59 L175.8 85.47 L176.23 84.93 L176.66 85.02 L177.09 84.5 L177.51 84.26 L177.94 84.72 L178.37 85.06 L178.8 85.6 L179.23 85.36 L179.66 86.83 L180.09 87.85 L180.51 88.36 L180.94 89.14 L181.37 89.91 L181.8 90.82 L182.23 92.06 L182.66 92.91 L183.09 94.03 L183.51 96 L183.94 96.44 L184.37 98.1 L184.8 100.82 L185.23 101.95 L185.66 103.07 L186.09 104.44 L186.51 105.66 L186.94 108.12 L187.37 109.21 L187.8 110.36 L188.23 111.35 L188.66 113.15 L189.09 113.92 L189.51 115.08 L189.94 116.08 L190.37 117.69 L190.8 118.07 L191.23 118.81 L191.66 119.57 L192.09 119.59 L192.51 120.62 L192.94 120.57 L193.37 121.7 L193.8 121.43 L194.23 121.87 L194.66 123.06 L195.09 123.06 L195.51 123.41 L195.94 124.12 L196.37 123.83 L196.8 124.14 L197.23 124.84 L197.66 124.76 L198.09 124.71 L198.51 125.24 L198.94 125.59 L199.37 125 L199.8 125.97 L200.23 125.66 L200.66 125.51 L201.09 125.7 L201.51 126.61 L201.94 126.19 L202.37 126.19 L202.8 126.26 L203.23 126.05 L203.66 126.12 L204.09 126.29 L204.51 126.29 L204.94 126.09 L205.37 126.06 L205.8 127.09 L206.23 125.83 L206.66 126.73 L207.09 126.34 L207.51 127.14 L207.94 126.81 L208.37 127.08 L208.8 126.36 L209.23 126.45 L209.66 126.75 L210.09 126.83 L210.51 126.68 L210.94 127.12 L211.37 127.04 L211.8 127.11 L212.23 126.63 L212.66 126.9 L213.09 127.34 L213.51 126.84 L213.94 126.81 L214.37 126.55 L214.8 127.19 L215.23 126.91 L215.66 126.39 L216.09 127.18 L216.51 127.21 L216.94 126.96 L217.37 127.3 L217.8 127.17 L218.23 127.35 L218.66 127.46 L219.09 126.96 L219.51 127.38 L219.94 127.6 L220.37 127.4 L220.8 127.37 L221.23 127.26 L221.66 127.08 L222.09 126.83 L222.51 127.81 L222.94 127.52 L223.37 128.04 L223.8 127.41 L224.23 127.34 L224.66 127.73 L225.09 127.84 L225.51 127.88 L225.94 128.06 L226.37 127.41 L226.8 127.02 L227.23 128.01 L227.66 127.15 L228.09 127.73 L228.51 128.15 L228.94 127.55 L229.37 127.51 L229.8 127.65 L230.23 127.87 L230.66 127.28 L231.09 127.92 L231.51 127.65 L231.94 127.66 L232.37 128.17 L232.8 128.49 L233.23 128.47 L233.66 128.07 L234.09 127.85 L234.51 128.55 L234.94 128.23 L235.37 127.53 L235.8 128.61 L236.23 127.91 L236.66 127.96 L237.09 127.84 L237.51 128.58 L237.94 128.02 L238.37 128.59 L238.8 127.74 L239.23 128.46 L239.66 128.08 L240.09 128.47 L240.51 128.2 L240.94 128.74 L241.37 128.19 L241.8 128.1 L242.23 128.32 L242.66 127.82 L243.09 128.23 L243.51 128.12 L243.94 128.22 L244.37 127.81 L244.8 128.63 L245.23 128.52 L245.66 128.53 L246.09 128.28 L246.51 128.41 L246.94 128.24 L247.37 128.43 L247.8 128.71 L248.23 128.58 L248.66 128.44 L249.09 129.32 L249.51 128.17 L249.94 128.81 L250.37 128.76 L250.8 128.58 L251.23 128.76 L251.66 129.16 L252.09 128.79 L252.51 128.29 L252.94 128.42 L253.37 128.38 L253.8 128.96 L254.23 128.87 L254.66 128.48 L255.09 128.36 L255.51 128.84 L255.94 129.18 L256.37 129.5 L256.8 128.45 L257.23 129.41 L257.66 128.8 L258.09 128.67 L258.51 127.93 L258.94 128.92 L259.37 129.04 L259.8 128.87 L260.23 128.87 L260.66 128.62 L261.09 128.85 L261.51 129.33 L261.94 129.78 L262.37 129.02 L262.8 129.35 L263.23 128.7 L263.66 129.59 L264.09 129.12 L264.51 129.44 L264.94 129.5 L265.37 128.7 L265.8 129.2 L266.23 129.32 L266.66 129.04 L267.09 129.55 L267.51 129.43 L267.94 129.54 L268.37 128.71 L268.8 129.26 L269.23 129.18 L269.66 129.04 L270.09 129.48 L270.51 129.48 L270.94 129.98 L271.37 129.31 L271.8 129.4 L272.23 129.63 L272.66 129.12 L273.09 130.11 L273.51 129.41 L273.94 130.01 L274.37 129.95 L274.8 129.66 L275.23 129.18 L275.66 130.01 L276.09 129.97 L276.51 130.05 L276.94 129.02 L277.37 129.52 L277.8 129.57" stroke="#8a4a22" stroke-width="1.7" fill="none" stroke-linejoin="round" opacity="1"/><path d="M37.8 174.62 L38.23 175.21 L38.66 175.97 L39.09 175.46 L39.51 175.68 L39.94 174.63 L40.37 175.75 L40.8 175.19 L41.23 175.46 L41.66 175.43 L42.09 175.28 L42.51 175.33 L42.94 175.51 L43.37 175.69 L43.8 175.49 L44.23 175.62 L44.66 175.57 L45.09 175.24 L45.51 175.33 L45.94 175.12 L46.37 175.35 L46.8 174.64 L47.23 175.51 L47.66 175.59 L48.09 174.93 L48.51 175.49 L48.94 175.22 L49.37 174.94 L49.8 175.28 L50.23 175.36 L50.66 174.93 L51.09 175.13 L51.51 175.41 L51.94 175.62 L52.37 175.35 L52.8 175.77 L53.23 175.51 L53.66 175.58 L54.09 175.12 L54.51 174.96 L54.94 175.42 L55.37 175.35 L55.8 175.56 L56.23 175.65 L56.66 175.33 L57.09 175 L57.51 175.03 L57.94 174.99 L58.37 175.26 L58.8 176.06 L59.23 174.86 L59.66 174.73 L60.09 174.85 L60.51 174.85 L60.94 174.78 L61.37 174.26 L61.8 175.02 L62.23 174.61 L62.66 174.85 L63.09 174.88 L63.51 175.14 L63.94 175.2 L64.37 175.45 L64.8 174.88 L65.23 175.16 L65.66 175.43 L66.09 175.28 L66.51 175.4 L66.94 174.47 L67.37 175.05 L67.8 174.92 L68.23 175.32 L68.66 175.24 L69.09 174.54 L69.51 174.93 L69.94 174.76 L70.37 174.2 L70.8 174.09 L71.23 174.52 L71.66 174.55 L72.09 174.6 L72.51 174.74 L72.94 173.95 L73.37 174.97 L73.8 174.57 L74.23 175.13 L74.66 174.88 L75.09 174.3 L75.51 174.24 L75.94 174.24 L76.37 174.42 L76.8 174.5 L77.23 174.4 L77.66 174.31 L78.09 173.78 L78.51 173.61 L78.94 173.88 L79.37 174.15 L79.8 174.21 L80.23 173.75 L80.66 173.85 L81.09 174.3 L81.51 173.19 L81.94 173.56 L82.37 173.59 L82.8 173.68 L83.23 173.6 L83.66 172.93 L84.09 173.44 L84.51 173.01 L84.94 172.74 L85.37 172.24 L85.8 172.54 L86.23 172.63 L86.66 172.63 L87.09 172.08 L87.51 171.89 L87.94 172.21 L88.37 171.72 L88.8 171.78 L89.23 172.08 L89.66 171.69 L90.09 170.89 L90.51 170.47 L90.94 170.49 L91.37 170.53 L91.8 170.44 L92.23 169.74 L92.66 169.47 L93.09 169.72 L93.51 168.55 L93.94 168.52 L94.37 167.54 L94.8 167 L95.23 166.31 L95.66 165.51 L96.09 164.89 L96.51 164.58 L96.94 163.47 L97.37 161.52 L97.8 160.26 L98.23 159.34 L98.66 157.78 L99.09 155.04 L99.51 152.62 L99.94 150.79 L100.37 148.6 L100.8 145.71 L101.23 143.8 L101.66 140.24 L102.09 136.54 L102.51 133.53 L102.94 131.4 L103.37 127.11 L103.8 124 L104.23 120.43 L104.66 117.26 L105.09 113.54 L105.51 110.14 L105.94 105.82 L106.37 101.67 L106.8 97.89 L107.23 92.54 L107.66 87.66 L108.09 81.99 L108.51 77.17 L108.94 73.99 L109.37 69.69 L109.8 66.6 L110.23 64.22 L110.66 61.35 L111.09 58.82 L111.51 57.01 L111.94 55.05 L112.37 53.51 L112.8 53.61 L113.23 53.77 L113.66 55.04 L114.09 56.56 L114.51 58.86 L114.94 60.83 L115.37 62.72 L115.8 65.17 L116.23 68.1 L116.66 71.54 L117.09 75.14 L117.51 78.55 L117.94 82.4 L118.37 87.03 L118.8 90.09 L119.23 93.47 L119.66 96.74 L120.09 100.31 L120.51 102.67 L120.94 106.38 L121.37 110.26 L121.8 113.06 L122.23 115.4 L122.66 118.11 L123.09 120.62 L123.51 122.85 L123.94 124.97 L124.37 127.05 L124.8 129.11 L125.23 130.22 L125.66 132.62 L126.09 132.88 L126.51 132.94 L126.94 134.24 L127.37 134.92 L127.8 134.35 L128.23 134.91 L128.66 135.4 L129.09 135.5 L129.51 135.26 L129.94 135.11 L130.37 134.85 L130.8 134.75 L131.23 134.05 L131.66 134.13 L132.09 134.27 L132.51 133.82 L132.94 133.09 L133.37 133.08 L133.8 133.19 L134.23 131.52 L134.66 131.44 L135.09 131.35 L135.51 130.95 L135.94 130.21 L136.37 129.52 L136.8 129.76 L137.23 129.03 L137.66 128.97 L138.09 128.28 L138.51 128.39 L138.94 128.27 L139.37 127.33 L139.8 127.09 L140.23 126.58 L140.66 126.81 L141.09 125.96 L141.51 126.18 L141.94 125.53 L142.37 125.96 L142.8 125.19 L143.23 125.53 L143.66 125.31 L144.09 124.89 L144.51 125.63 L144.94 125.26 L145.37 124.18 L145.8 125.14 L146.23 124.69 L146.66 124.23 L147.09 123.83 L147.51 124.36 L147.94 124.06 L148.37 124.38 L148.8 124.06 L149.23 123.52 L149.66 123.68 L150.09 123.74 L150.51 123.54 L150.94 123.58 L151.37 123.53 L151.8 123.66 L152.23 123.83 L152.66 123.26 L153.09 123.81 L153.51 123.08 L153.94 122.69 L154.37 122.85 L154.8 122.55 L155.23 123.6 L155.66 123.14 L156.09 123.43 L156.51 123.35 L156.94 123.6 L157.37 123.37 L157.8 122.62 L158.23 122.58 L158.66 122.32 L159.09 122.23 L159.51 122.22 L159.94 122.59 L160.37 122.21 L160.8 121.77 L161.23 121.41 L161.66 121.73 L162.09 121.54 L162.51 121.28 L162.94 120.35 L163.37 120.39 L163.8 120.36 L164.23 120.16 L164.66 119.4 L165.09 119.68 L165.51 118.78 L165.94 118.24 L166.37 117.22 L166.8 115.62 L167.23 113.94 L167.66 111.25 L168.09 110.19 L168.51 107.86 L168.94 106.13 L169.37 104.16 L169.8 100.59 L170.23 97 L170.66 94.25 L171.09 90.14 L171.51 86.13 L171.94 83.29 L172.37 81.66 L172.8 78.59 L173.23 77.02 L173.66 74.84 L174.09 73.57 L174.51 71.29 L174.94 69.7 L175.37 68.92 L175.8 67.4 L176.23 66.9 L176.66 66.28 L177.09 66.16 L177.51 66.08 L177.94 66.48 L178.37 66.43 L178.8 67.62 L179.23 68.82 L179.66 69.06 L180.09 70.48 L180.51 71.58 L180.94 73.2 L181.37 74.27 L181.8 75.84 L182.23 77.6 L182.66 79.06 L183.09 81.1 L183.51 83.36 L183.94 85.53 L184.37 88.84 L184.8 90.7 L185.23 93.52 L185.66 95.73 L186.09 97.72 L186.51 99.84 L186.94 101.97 L187.37 103.45 L187.8 105.64 L188.23 107.24 L188.66 109 L189.09 111.28 L189.51 113.18 L189.94 114.32 L190.37 115.43 L190.8 116.74 L191.23 118.13 L191.66 119.07 L192.09 119.55 L192.51 120.23 L192.94 120.36 L193.37 121.14 L193.8 121.43 L194.23 122.24 L194.66 122.14 L195.09 123.08 L195.51 123.27 L195.94 123.89 L196.37 123.87 L196.8 123.9 L197.23 124.21 L197.66 124.26 L198.09 125.05 L198.51 124.89 L198.94 124.66 L199.37 125.27 L199.8 125.54 L200.23 125.68 L200.66 125.88 L201.09 125.76 L201.51 125.44 L201.94 125.81 L202.37 126.01 L202.8 126.3 L203.23 126.45 L203.66 125.37 L204.09 126.32 L204.51 126.17 L204.94 126.39 L205.37 126.22 L205.8 126.44 L206.23 126.3 L206.66 125.9 L207.09 126.62 L207.51 126.24 L207.94 126.46 L208.37 126.23 L208.8 126.7 L209.23 126.37 L209.66 126.84 L210.09 127.12 L210.51 126.98 L210.94 126.89 L211.37 126.96 L211.8 126.72 L212.23 126.29 L212.66 127.02 L213.09 126.53 L213.51 126.64 L213.94 126.93 L214.37 127.02 L214.8 126.61 L215.23 126.61 L215.66 126.89 L216.09 126.85 L216.51 126.82 L216.94 127.25 L217.37 126.82 L217.8 126.78 L218.23 126.34 L218.66 127.33 L219.09 127.22 L219.51 126.94 L219.94 127.17 L220.37 127.14 L220.8 127.03 L221.23 127.14 L221.66 127.08 L222.09 126.95 L222.51 127.62 L222.94 126.96 L223.37 127.86 L223.8 126.64 L224.23 126.9 L224.66 127.41 L225.09 126.92 L225.51 127.3 L225.94 127.14 L226.37 127.06 L226.8 127.21 L227.23 127.34 L227.66 127.16 L228.09 127.44 L228.51 127.51 L228.94 127.71 L229.37 128 L229.8 126.96 L230.23 127.23 L230.66 127.93 L231.09 127.39 L231.51 127.47 L231.94 128.24 L232.37 127.83 L232.8 127.62 L233.23 127.07 L233.66 127.28 L234.09 127.25 L234.51 127.57 L234.94 127.37 L235.37 128.07 L235.8 127.53 L236.23 127.51 L236.66 128.16 L237.09 127.7 L237.51 127.32 L237.94 127.21 L238.37 127.39 L238.8 128.07 L239.23 127.89 L239.66 128.05 L240.09 127.52 L240.51 128.18 L240.94 128.27 L241.37 128.46 L241.8 127.91 L242.23 127.85 L242.66 128.19 L243.09 128.26 L243.51 128.1 L243.94 127.64 L244.37 128.5 L244.8 128.1 L245.23 128.04 L245.66 128.01 L246.09 127.75 L246.51 127.9 L246.94 128.09 L247.37 127.73 L247.8 127.85 L248.23 128.13 L248.66 128.17 L249.09 128.63 L249.51 128.23 L249.94 128.54 L250.37 128.67 L250.8 128.41 L251.23 128.88 L251.66 128.64 L252.09 128.54 L252.51 128.29 L252.94 128.51 L253.37 128.3 L253.8 127.95 L254.23 128.21 L254.66 128.84 L255.09 129.05 L255.51 128.8 L255.94 128.81 L256.37 129.17 L256.8 129.1 L257.23 129.12 L257.66 128.79 L258.09 128.17 L258.51 128.1 L258.94 128.97 L259.37 128.82 L259.8 129.12 L260.23 129.22 L260.66 128.75 L261.09 128.73 L261.51 128.96 L261.94 128.58 L262.37 128.9 L262.8 128.47 L263.23 128.98 L263.66 128.58 L264.09 128.92 L264.51 128.84 L264.94 128.69 L265.37 129.32 L265.8 129.15 L266.23 128.96 L266.66 129.04 L267.09 128.88 L267.51 129.23 L267.94 129.41 L268.37 129.04 L268.8 128.93 L269.23 129.29 L269.66 128.67 L270.09 128.85 L270.51 128.81 L270.94 128.85 L271.37 129.37 L271.8 128.45 L272.23 129.35 L272.66 129.02 L273.09 128.92 L273.51 129.06 L273.94 129.11 L274.37 129.44 L274.8 129.32 L275.23 129.2 L275.66 128.81 L276.09 129.44 L276.51 129.03 L276.94 129.11 L277.37 129.24 L277.8 129.45" stroke="#36b936" stroke-width="1.7" fill="none" stroke-linejoin="round" opacity="1"/><path d="M37.8 175.32 L38.23 175.82 L38.66 175.24 L39.09 175.17 L39.51 175.43 L39.94 175.1 L40.37 175.17 L40.8 175.49 L41.23 175 L41.66 175.43 L42.09 174.5 L42.51 175.58 L42.94 175.51 L43.37 175.45 L43.8 175.18 L44.23 174.89 L44.66 175.22 L45.09 175.37 L45.51 174.65 L45.94 174.92 L46.37 175.33 L46.8 175.28 L47.23 175.72 L47.66 175.22 L48.09 174.7 L48.51 175.6 L48.94 175.67 L49.37 175.19 L49.8 175.97 L50.23 174.79 L50.66 175.69 L51.09 175.44 L51.51 175.27 L51.94 174.84 L52.37 175.09 L52.8 175.8 L53.23 175.74 L53.66 175.14 L54.09 175.86 L54.51 175.29 L54.94 175.46 L55.37 174.95 L55.8 174.82 L56.23 175.98 L56.66 175.05 L57.09 174.98 L57.51 175.42 L57.94 175.36 L58.37 175.55 L58.8 175.27 L59.23 175.03 L59.66 174.74 L60.09 174.7 L60.51 175.24 L60.94 175.4 L61.37 174.82 L61.8 176 L62.23 175.56 L62.66 174.92 L63.09 174.42 L63.51 175.35 L63.94 175.07 L64.37 175.44 L64.8 175.1 L65.23 175.09 L65.66 175.29 L66.09 174.92 L66.51 175.07 L66.94 174.84 L67.37 175.04 L67.8 175.34 L68.23 174.89 L68.66 174.64 L69.09 175.13 L69.51 174.44 L69.94 174.69 L70.37 174.92 L70.8 174.76 L71.23 174.88 L71.66 174.99 L72.09 174.39 L72.51 174.36 L72.94 174.75 L73.37 174.63 L73.8 174.61 L74.23 174.29 L74.66 174.01 L75.09 174.64 L75.51 174.3 L75.94 174.36 L76.37 174.14 L76.8 173.82 L77.23 174.5 L77.66 174.83 L78.09 174.19 L78.51 174.58 L78.94 173.5 L79.37 174.19 L79.8 174 L80.23 173.77 L80.66 173.71 L81.09 173.84 L81.51 173.63 L81.94 173.26 L82.37 173.58 L82.8 172.82 L83.23 173.2 L83.66 173.96 L84.09 172.85 L84.51 173.59 L84.94 172.83 L85.37 172.13 L85.8 172.39 L86.23 172.96 L86.66 172.74 L87.09 172.35 L87.51 171.76 L87.94 172.29 L88.37 171.55 L88.8 171.63 L89.23 171.58 L89.66 171.41 L90.09 170.62 L90.51 171.4 L90.94 171.06 L91.37 170.17 L91.8 169.88 L92.23 170.31 L92.66 169.86 L93.09 169.55 L93.51 168.59 L93.94 168.48 L94.37 167.3 L94.8 166.93 L95.23 166.45 L95.66 165.79 L96.09 164.94 L96.51 163.96 L96.94 163.13 L97.37 161.77 L97.8 160.16 L98.23 158.84 L98.66 156.8 L99.09 155.37 L99.51 153.58 L99.94 150.99 L100.37 147.99 L100.8 145.3 L101.23 143.38 L101.66 139.79 L102.09 137.01 L102.51 133.91 L102.94 130.84 L103.37 127.63 L103.8 124.45 L104.23 120.99 L104.66 117.36 L105.09 114.23 L105.51 110.56 L105.94 106.74 L106.37 102.86 L106.8 98.03 L107.23 93.75 L107.66 88.37 L108.09 83.3 L108.51 78.38 L108.94 74.46 L109.37 70.88 L109.8 68.45 L110.23 65.6 L110.66 62.82 L111.09 61.14 L111.51 58.54 L111.94 56.66 L112.37 56.16 L112.8 56.04 L113.23 55.83 L113.66 57.44 L114.09 58.6 L114.51 61.58 L114.94 62.88 L115.37 65.26 L115.8 67.17 L116.23 69.4 L116.66 72.86 L117.09 76.35 L117.51 80.89 L117.94 83.62 L118.37 87.28 L118.8 91.3 L119.23 94.83 L119.66 97.71 L120.09 100.66 L120.51 103.93 L120.94 106.59 L121.37 110.44 L121.8 113.62 L122.23 115.83 L122.66 118.21 L123.09 121.18 L123.51 123.25 L123.94 125.55 L124.37 127.81 L124.8 129.59 L125.23 131.72 L125.66 132.37 L126.09 133.28 L126.51 133.85 L126.94 135.03 L127.37 135.53 L127.8 136.3 L128.23 136.52 L128.66 135.88 L129.09 135.24 L129.51 136.34 L129.94 135.96 L130.37 135.33 L130.8 135.59 L131.23 134.93 L131.66 134.94 L132.09 134.69 L132.51 134.06 L132.94 134.14 L133.37 134.15 L133.8 133.16 L134.23 133.06 L134.66 132.88 L135.09 132.58 L135.51 131.76 L135.94 131.78 L136.37 131.13 L136.8 130.46 L137.23 130.42 L137.66 129.67 L138.09 130.09 L138.51 129.12 L138.94 128.82 L139.37 128.09 L139.8 128.4 L140.23 127.88 L140.66 127.99 L141.09 128.09 L141.51 127.84 L141.94 127.61 L142.37 126.97 L142.8 127.29 L143.23 126.87 L143.66 126.45 L144.09 126.19 L144.51 126.14 L144.94 125.83 L145.37 126.52 L145.8 126.19 L146.23 125.81 L146.66 125.44 L147.09 125.52 L147.51 125.82 L147.94 125.53 L148.37 125.9 L148.8 125.04 L149.23 125.76 L149.66 125.06 L150.09 124.72 L150.51 124.71 L150.94 125.44 L151.37 124.81 L151.8 124.94 L152.23 124.88 L152.66 124.23 L153.09 124.61 L153.51 125.1 L153.94 124.95 L154.37 124.34 L154.8 124.45 L155.23 124.82 L155.66 124.94 L156.09 124.52 L156.51 124.42 L156.94 123.95 L157.37 124.32 L157.8 123.82 L158.23 123.55 L158.66 124.32 L159.09 123.88 L159.51 123.07 L159.94 123.54 L160.37 123.23 L160.8 122.74 L161.23 123.07 L161.66 122.73 L162.09 122.87 L162.51 121.9 L162.94 121.92 L163.37 121.56 L163.8 121.89 L164.23 120.39 L164.66 120.06 L165.09 120.08 L165.51 118.96 L165.94 119.38 L166.37 117.48 L166.8 116.46 L167.23 113.23 L167.66 112.81 L168.09 110.07 L168.51 107.48 L168.94 104.45 L169.37 101.88 L169.8 98.95 L170.23 95.32 L170.66 90.29 L171.09 86.79 L171.51 82.27 L171.94 78.17 L172.37 76.31 L172.8 73.92 L173.23 71.09 L173.66 69.11 L174.09 67.59 L174.51 65.23 L174.94 62.88 L175.37 62.02 L175.8 60.4 L176.23 59.62 L176.66 59.22 L177.09 58.21 L177.51 58.5 L177.94 58.8 L178.37 59.85 L178.8 60.62 L179.23 61.62 L179.66 62.74 L180.09 64.31 L180.51 65.77 L180.94 66.66 L181.37 68.91 L181.8 70.2 L182.23 71.86 L182.66 73.96 L183.09 76.53 L183.51 78.98 L183.94 81.23 L184.37 84.44 L184.8 87.42 L185.23 89.47 L185.66 93.11 L186.09 94.87 L186.51 97.34 L186.94 100 L187.37 101.87 L187.8 104.04 L188.23 105.65 L188.66 107.85 L189.09 110.2 L189.51 112.34 L189.94 114.19 L190.37 115.2 L190.8 116.85 L191.23 117.46 L191.66 118.3 L192.09 118.91 L192.51 119.45 L192.94 120.42 L193.37 120.94 L193.8 121.73 L194.23 121.88 L194.66 122.44 L195.09 122.62 L195.51 123.06 L195.94 124.03 L196.37 124.52 L196.8 124.08 L197.23 124.13 L197.66 124.9 L198.09 124.4 L198.51 125.02 L198.94 125.24 L199.37 125.25 L199.8 125.94 L200.23 126.14 L200.66 125.84 L201.09 126.19 L201.51 125.91 L201.94 125.97 L202.37 126.83 L202.8 126.32 L203.23 125.94 L203.66 126.87 L204.09 126.28 L204.51 126.64 L204.94 126.86 L205.37 125.92 L205.8 125.96 L206.23 126.46 L206.66 126.51 L207.09 125.94 L207.51 126.02 L207.94 126.43 L208.37 126.17 L208.8 126.43 L209.23 126.58 L209.66 126.31 L210.09 126.65 L210.51 126.35 L210.94 126.63 L211.37 126.71 L211.8 126.76 L212.23 126.45 L212.66 126.32 L213.09 126.49 L213.51 126.92 L213.94 126.46 L214.37 126.95 L214.8 127.04 L215.23 126.77 L215.66 126.47 L216.09 126.52 L216.51 126.58 L216.94 126.34 L217.37 126.52 L217.8 126.92 L218.23 126.58 L218.66 126.93 L219.09 126.75 L219.51 126.7 L219.94 126.93 L220.37 127.39 L220.8 126.99 L221.23 127.06 L221.66 127.02 L222.09 127.14 L222.51 127.38 L222.94 127.55 L223.37 126.86 L223.8 126.84 L224.23 126.99 L224.66 127.14 L225.09 126.54 L225.51 126.96 L225.94 127.18 L226.37 126.95 L226.8 127.25 L227.23 127.03 L227.66 127.18 L228.09 127.12 L228.51 127.29 L228.94 127.47 L229.37 127.19 L229.8 127.01 L230.23 127.67 L230.66 127.57 L231.09 127.76 L231.51 127.17 L231.94 127.53 L232.37 127.2 L232.8 127.75 L233.23 127.26 L233.66 127.72 L234.09 127.7 L234.51 127.41 L234.94 127.72 L235.37 127.8 L235.8 127.36 L236.23 127.67 L236.66 127.29 L237.09 126.9 L237.51 127.88 L237.94 127.83 L238.37 128.22 L238.8 128.13 L239.23 127.59 L239.66 127.71 L240.09 127.73 L240.51 127.69 L240.94 128.11 L241.37 128.39 L241.8 127.55 L242.23 127.83 L242.66 127.57 L243.09 127.95 L243.51 127.72 L243.94 128.14 L244.37 127.99 L244.8 128.06 L245.23 127.91 L245.66 127.61 L246.09 127.85 L246.51 128.97 L246.94 128.12 L247.37 128.1 L247.8 127.87 L248.23 128.09 L248.66 128.37 L249.09 128.41 L249.51 128.29 L249.94 128.42 L250.37 127.78 L250.8 128.05 L251.23 128.23 L251.66 127.97 L252.09 127.61 L252.51 128.36 L252.94 128.32 L253.37 128.42 L253.8 128.72 L254.23 128.56 L254.66 128.66 L255.09 128.24 L255.51 128.27 L255.94 128.15 L256.37 128.68 L256.8 128.15 L257.23 128.77 L257.66 128.54 L258.09 128.1 L258.51 128.13 L258.94 128.19 L259.37 127.89 L259.8 128.23 L260.23 128.65 L260.66 128.65 L261.09 128.84 L261.51 128.54 L261.94 128.86 L262.37 128.83 L262.8 128.96 L263.23 129.19 L263.66 127.92 L264.09 128.42 L264.51 129.36 L264.94 128.59 L265.37 128.91 L265.8 129.42 L266.23 128.84 L266.66 128.72 L267.09 128.62 L267.51 128.47 L267.94 129.09 L268.37 128.85 L268.8 128.65 L269.23 128.7 L269.66 128.76 L270.09 128.86 L270.51 128.52 L270.94 129.31 L271.37 129.39 L271.8 128.4 L272.23 128.82 L272.66 128.62 L273.09 128.91 L273.51 129.11 L273.94 129.15 L274.37 128.97 L274.8 129.17 L275.23 129.06 L275.66 129.08 L276.09 128.81 L276.51 128.83 L276.94 128.59 L277.37 129.32 L277.8 129.12" stroke="#36b936" stroke-width="1.7" fill="none" stroke-linejoin="round" opacity="1"/></g><rect x="37.8" y="22.5" width="240" height="168.2" fill="none" stroke="#2a2a2a" stroke-width="1.5"/><path d="M46.37 190.7V186.7M46.37 22.5V26.5M54.94 190.7V186.7M54.94 22.5V26.5M72.09 190.7V186.7M72.09 22.5V26.5M80.66 190.7V186.7M80.66 22.5V26.5M89.23 190.7V186.7M89.23 22.5V26.5M97.8 190.7V186.7M97.8 22.5V26.5M114.94 190.7V186.7M114.94 22.5V26.5M123.51 190.7V186.7M123.51 22.5V26.5M132.09 190.7V186.7M132.09 22.5V26.5M140.66 190.7V186.7M140.66 22.5V26.5M157.8 190.7V186.7M157.8 22.5V26.5M166.37 190.7V186.7M166.37 22.5V26.5M174.94 190.7V186.7M174.94 22.5V26.5M183.51 190.7V186.7M183.51 22.5V26.5M200.66 190.7V186.7M200.66 22.5V26.5M209.23 190.7V186.7M209.23 22.5V26.5M217.8 190.7V186.7M217.8 22.5V26.5M226.37 190.7V186.7M226.37 22.5V26.5M243.51 190.7V186.7M243.51 22.5V26.5M252.09 190.7V186.7M252.09 22.5V26.5M260.66 190.7V186.7M260.66 22.5V26.5M269.23 190.7V186.7M269.23 22.5V26.5" stroke="#2a2a2a" stroke-width="1.3" fill="none"/><path d="M63.51 190.7V182.7M63.51 22.5V30.5M106.37 190.7V182.7M106.37 22.5V30.5M149.23 190.7V182.7M149.23 22.5V30.5M192.09 190.7V182.7M192.09 22.5V30.5M234.94 190.7V182.7M234.94 22.5V30.5" stroke="#2a2a2a" stroke-width="1.3" fill="none"/><path d="M37.8 174.9H44.8M277.8 174.9H270.8M37.8 135.77H44.8M277.8 135.77H270.8M37.8 96.64H44.8M277.8 96.64H270.8M37.8 57.51H44.8M277.8 57.51H270.8" stroke="#2a2a2a" stroke-width="1.3" fill="none"/><text transform="translate(63.51 204.3) scale(1 1.08)" font-size="13" text-anchor="middle" fill="#262626" stroke="#262626" stroke-width="0.08">2465</text><text transform="translate(106.37 204.3) scale(1 1.08)" font-size="13" text-anchor="middle" fill="#262626" stroke="#262626" stroke-width="0.08">2470</text><text transform="translate(149.23 204.3) scale(1 1.08)" font-size="13" text-anchor="middle" fill="#262626" stroke="#262626" stroke-width="0.08">2475</text><text transform="translate(192.09 204.3) scale(1 1.08)" font-size="13" text-anchor="middle" fill="#262626" stroke="#262626" stroke-width="0.08">2480</text><text transform="translate(234.94 204.3) scale(1 1.08)" font-size="13" text-anchor="middle" fill="#262626" stroke="#262626" stroke-width="0.08">2485</text><text transform="translate(277.8 204.3) scale(1 1.08)" font-size="13" text-anchor="middle" fill="#262626" stroke="#262626" stroke-width="0.08">2490</text><text transform="translate(36.4 180.4) scale(1 1.0)" font-size="13" text-anchor="end" fill="#262626" stroke="#262626" stroke-width="0.08">0</text><text transform="translate(36.4 141.27) scale(1 1.0)" font-size="13" text-anchor="end" fill="#262626" stroke="#262626" stroke-width="0.08">1</text><text transform="translate(36.4 102.14) scale(1 1.0)" font-size="13" text-anchor="end" fill="#262626" stroke="#262626" stroke-width="0.08">2</text><text transform="translate(36.4 63.01) scale(1 1.0)" font-size="13" text-anchor="end" fill="#262626" stroke="#262626" stroke-width="0.08">3</text><text transform="translate(149.9 218) scale(1 1.0)" font-size="13.3" text-anchor="middle" fill="#262626" stroke="#262626" stroke-width="0.08">Energy (eV)</text><text x="0" y="0" font-size="13.7" text-anchor="middle" fill="#262626" stroke="#262626" stroke-width="0.08" transform="translate(23.9 104.2) rotate(-90)">Normalized Absorbance</text><text transform="translate(57 49.9) scale(1 1.13)" font-size="15" text-anchor="middle" fill="#262626" stroke="#262626" stroke-width="0.08">A</text><path d="M205.8 49.5L192.3 56.2Q190.5 51 191.6 48.5Q188 47 183 51L180.5 53.8" stroke="#55c455" stroke-width="1.3" fill="none"/><path d="M179.3 55L180.6 49.8L185 55.3Z" fill="#55c455"/><text transform="translate(207.6 50.6) scale(1 1.0)" font-size="14" text-anchor="start" fill="#55c455" stroke="#55c455" stroke-width="0.08">7 days</text><path d="M185.3 151.4L174.1 134.5L186.7 131L178 119" stroke="#e07068" stroke-width="1.2" fill="none"/><path d="M176.9 115.6L175.3 121.5L180.2 120.5Z" fill="#e07068"/><text transform="translate(186.7 162) scale(1 1.0)" font-size="14" text-anchor="start" fill="#e07068" stroke="#e07068" stroke-width="0.08">0 days</text><g clip-path="url(#cb)"><path d="M327.6 177.57 L328.03 177.32 L328.46 177.24 L328.89 177.61 L329.31 177.4 L329.74 175.8 L330.17 177.11 L330.6 176.84 L331.03 177.93 L331.46 176.49 L331.89 177.69 L332.31 177.01 L332.74 177.59 L333.17 177.53 L333.6 178.05 L334.03 177.7 L334.46 177.83 L334.89 177.25 L335.31 181.38 L335.74 176.41 L336.17 175.59 L336.6 175.46 L337.03 175.06 L337.46 176.83 L337.89 175.84 L338.31 177.16 L338.74 175.69 L339.17 175.48 L339.6 176.56 L340.03 175.3 L340.46 174.81 L340.89 175.6 L341.31 176.24 L341.74 176.13 L342.17 175.5 L342.6 176.32 L343.03 175.89 L343.46 176.03 L343.89 176.26 L344.31 176.4 L344.74 175.34 L345.17 175.7 L345.6 175.11 L346.03 176.62 L346.46 175.2 L346.89 174.99 L347.31 175.13 L347.74 175.11 L348.17 175.81 L348.6 176.04 L349.03 176.69 L349.46 176.97 L349.89 177.35 L350.31 177.22 L350.74 176.66 L351.17 175.85 L351.6 176.39 L352.03 177.03 L352.46 175.73 L352.89 176.64 L353.31 176.34 L353.74 176.76 L354.17 176.81 L354.6 177.07 L355.03 177.84 L355.46 177.28 L355.89 177.76 L356.31 176.21 L356.74 176.37 L357.17 178.12 L357.6 178.45 L358.03 177.89 L358.46 178.97 L358.89 177.08 L359.31 177.69 L359.74 181.01 L360.17 177.39 L360.6 177.19 L361.03 178.03 L361.46 177.57 L361.89 179.64 L362.31 179.59 L362.74 179.17 L363.17 180.02 L363.6 178.27 L364.03 177.11 L364.46 179.43 L364.89 178.82 L365.31 177.63 L365.74 178.68 L366.17 178.58 L366.6 178.87 L367.03 177.94 L367.46 178.98 L367.89 177.5 L368.31 177.46 L368.74 181.01 L369.17 178.66 L369.6 178.12 L370.03 177.32 L370.46 177.9 L370.89 177.52 L371.31 178.5 L371.74 177.02 L372.17 176.11 L372.6 175.24 L373.03 176.82 L373.46 177.09 L373.89 175.07 L374.31 174.83 L374.74 176.17 L375.17 175.66 L375.6 176.8 L376.03 175.56 L376.46 174.41 L376.89 173.45 L377.31 175.82 L377.74 174.97 L378.17 175.46 L378.6 174.64 L379.03 175.41 L379.46 174.18 L379.89 173.7 L380.31 173.64 L380.74 173.43 L381.17 173.43 L381.6 172.73 L382.03 172.9 L382.46 172.75 L382.89 172.85 L383.31 171.41 L383.74 171.7 L384.17 171.01 L384.6 171.23 L385.03 171.65 L385.46 170.67 L385.89 170.21 L386.31 169.82 L386.74 168.99 L387.17 167.93 L387.6 166.58 L388.03 165.56 L388.46 164.72 L388.89 164.14 L389.31 162.79 L389.74 158.2 L390.17 159.7 L390.6 157.78 L391.03 156.53 L391.46 156 L391.89 152.07 L392.31 151.03 L392.74 151.43 L393.17 144.84 L393.6 144.2 L394.03 140.52 L394.46 137.28 L394.89 131.5 L395.31 125.56 L395.74 121.36 L396.17 117.44 L396.6 112.33 L397.03 107.08 L397.46 104.81 L397.89 100.75 L398.31 95.62 L398.74 93.01 L399.17 90.42 L399.6 88.49 L400.03 85.75 L400.46 83.45 L400.89 81.96 L401.31 81.86 L401.74 78.93 L402.17 79.7 L402.6 76.56 L403.03 78 L403.46 77.91 L403.89 78.99 L404.31 80.52 L404.74 80.04 L405.17 82.34 L405.6 83.68 L406.03 85.22 L406.46 87.32 L406.89 88.05 L407.31 91.58 L407.74 95.62 L408.17 99.44 L408.6 100.28 L409.03 103.59 L409.46 106.53 L409.89 110.46 L410.31 114.55 L410.74 115.84 L411.17 116.71 L411.6 119.64 L412.03 121.18 L412.46 125.04 L412.89 124.68 L413.31 128.29 L413.74 131.56 L414.17 132.32 L414.6 132.53 L415.03 133.23 L415.46 137.42 L415.89 137.36 L416.31 136.68 L416.74 138.54 L417.17 138.02 L417.6 138.85 L418.03 137.93 L418.46 138.87 L418.89 137.89 L419.31 139.51 L419.74 137.26 L420.17 136.6 L420.6 134.91 L421.03 135.06 L421.46 133.16 L421.89 134.7 L422.31 132.97 L422.74 131.31 L423.17 130.68 L423.6 128.95 L424.03 128.4 L424.46 127.89 L424.89 124.97 L425.31 126.48 L425.74 125.12 L426.17 125.76 L426.6 124.02 L427.03 125.73 L427.46 124.38 L427.89 123.56 L428.31 124.21 L428.74 122.36 L429.17 123.22 L429.6 122.03 L430.03 124.69 L430.46 120.84 L430.89 123.3 L431.31 124.22 L431.74 123.73 L432.17 123.8 L432.6 124.92 L433.03 124.4 L433.46 124.25 L433.89 124.71 L434.31 125.39 L434.74 125.46 L435.17 125.79 L435.6 124.98 L436.03 124.13 L436.46 126.71 L436.89 126.76 L437.31 126.15 L437.74 125.34 L438.17 126.79 L438.6 124.72 L439.03 124.97 L439.46 128.93 L439.89 126.79 L440.31 126.58 L440.74 127.42 L441.17 128.63 L441.6 127.29 L442.03 127.95 L442.46 126.84 L442.89 122.45 L443.31 128.3 L443.74 126.12 L444.17 126.08 L444.6 126.1 L445.03 126.95 L445.46 126.4 L445.89 126.85 L446.31 127.52 L446.74 130.37 L447.17 126.91 L447.6 128.39 L448.03 126.62 L448.46 128.18 L448.89 127.37 L449.31 127.92 L449.74 128.47 L450.17 128.19 L450.6 127.65 L451.03 126.21 L451.46 126.68 L451.89 126.84 L452.31 125.97 L452.74 127.41 L453.17 127.44 L453.6 126.99 L454.03 125.47 L454.46 126.01 L454.89 121.27 L455.31 125.31 L455.74 125.32 L456.17 123.67 L456.6 123.5 L457.03 124.15 L457.46 123.49 L457.89 122.37 L458.31 122.79 L458.74 121.84 L459.17 121.22 L459.6 121.52 L460.03 120.88 L460.46 121.32 L460.89 120.93 L461.31 121.02 L461.74 119.07 L462.17 120.11 L462.6 119.29 L463.03 118.84 L463.46 117.59 L463.89 118.19 L464.31 118.78 L464.74 115.61 L465.17 118.15 L465.6 116.58 L466.03 117.66 L466.46 116.24 L466.89 117.5 L467.31 115.44 L467.74 116.12 L468.17 118.01 L468.6 115.94 L469.03 118.42 L469.46 117.2 L469.89 116.23 L470.31 117.65 L470.74 116.71 L471.17 117.44 L471.6 118.16 L472.03 117.05 L472.46 118.01 L472.89 118.55 L473.31 115.94 L473.74 119.53 L474.17 120.83 L474.6 120.7 L475.03 118.97 L475.46 119.42 L475.89 122.91 L476.31 121.85 L476.74 124.59 L477.17 123.98 L477.6 123.8 L478.03 125.65 L478.46 125.87 L478.89 125.61 L479.31 126.79 L479.74 127.47 L480.17 128.08 L480.6 129.24 L481.03 129.17 L481.46 129.07 L481.89 129.53 L482.31 130.74 L482.74 129.27 L483.17 132.72 L483.6 132.61 L484.03 132.92 L484.46 132.29 L484.89 134.37 L485.31 133.46 L485.74 134.6 L486.17 134.98 L486.6 134.48 L487.03 134.27 L487.46 134.17 L487.89 138.84 L488.31 134.8 L488.74 135.39 L489.17 136.15 L489.6 136.23 L490.03 136.7 L490.46 137.04 L490.89 136.43 L491.31 136.07 L491.74 137.85 L492.17 137.72 L492.6 137.38 L493.03 138.88 L493.46 136.38 L493.89 137.12 L494.31 136.22 L494.74 137.58 L495.17 138.41 L495.6 137.87 L496.03 137.57 L496.46 138.47 L496.89 137.03 L497.31 137.23 L497.74 138.54 L498.17 137.49 L498.6 137.98 L499.03 137.8 L499.46 137.67 L499.89 138.19 L500.31 142.89 L500.74 137.52 L501.17 137.42 L501.6 137.21 L502.03 138.13 L502.46 136.91 L502.89 136.54 L503.31 138.24 L503.74 137.53 L504.17 136.77 L504.6 139.04 L505.03 139.17 L505.46 139.09 L505.89 139.57 L506.31 138.23 L506.74 139.26 L507.17 139.26 L507.6 139.73 L508.03 138.47 L508.46 138.82 L508.89 138.86 L509.31 138.87 L509.74 137.47 L510.17 138.94 L510.6 138.61 L511.03 137.73 L511.46 138.57 L511.89 137.64 L512.31 139.01 L512.74 137.84 L513.17 140.15 L513.6 138.48 L514.03 138.56 L514.46 138.7 L514.89 137.16 L515.31 137.16 L515.74 138.99 L516.17 136.25 L516.6 139.4 L517.03 136.8 L517.46 136.95 L517.89 135.37 L518.31 135.92 L518.74 137.2 L519.17 137.38 L519.6 137.74 L520.03 137.55 L520.46 136.2 L520.89 136.05 L521.31 136.33 L521.74 137.66 L522.17 137.82 L522.6 136.67 L523.03 138.99 L523.46 138.19 L523.89 138.74 L524.31 137.49 L524.74 135.38 L525.17 137.87 L525.6 136.75 L526.03 135.95 L526.46 137.77 L526.89 138.01 L527.31 137.77 L527.74 137.46 L528.17 138.95 L528.6 138.55 L529.03 137.31 L529.46 141.77 L529.89 138.31 L530.31 137.75 L530.74 139.03 L531.17 138.77 L531.6 138.61 L532.03 138.69 L532.46 138.78 L532.89 139.07 L533.31 138.95 L533.74 139.08 L534.17 138.4 L534.6 139.25 L535.03 139.6 L535.46 137.67 L535.89 137.1 L536.31 139.18 L536.74 139.58 L537.17 139.42 L537.6 140.02 L538.03 139.47 L538.46 139.77 L538.89 140.01 L539.31 139.43 L539.74 139.7 L540.17 137.13 L540.6 139.7 L541.03 137.48 L541.46 138.15 L541.89 137.84 L542.31 137.28 L542.74 139.95 L543.17 136.9 L543.6 138.07 L544.03 138.97 L544.46 138.81 L544.89 137.92 L545.31 140.23 L545.74 137.24 L546.17 138.44 L546.6 137.79 L547.03 138.25 L547.46 138.88 L547.89 138.62 L548.31 139 L548.74 137.52 L549.17 138.14 L549.6 137.86 L550.03 138.1 L550.46 138.21 L550.89 138.65 L551.31 138.03 L551.74 139.29 L552.17 139.87 L552.6 139.34 L553.03 139.7 L553.46 139.41 L553.89 138.75 L554.31 138.71 L554.74 138.89 L555.17 140.03 L555.6 138.97 L556.03 139.16 L556.46 138.53 L556.89 139.22 L557.31 139.52 L557.74 138.99 L558.17 142.32 L558.6 139.84 L559.03 139.09 L559.46 139.38 L559.89 139.14 L560.31 140.09 L560.74 140.92 L561.17 138.85 L561.6 138.71 L562.03 140.72 L562.46 140.62 L562.89 139.36 L563.31 139.81 L563.74 139.32 L564.17 139.12 L564.6 139.93 L565.03 140.02 L565.46 139.51 L565.89 140.96 L566.31 141.32 L566.74 140.38 L567.17 140.32 L567.6 140.94" stroke="#36b936" stroke-width="1.5" fill="none" stroke-linejoin="round" opacity="1"/><path d="M327.6 177.49 L328.03 177.49 L328.46 177.49 L328.89 177.48 L329.31 177.48 L329.74 177.48 L330.17 177.48 L330.6 177.48 L331.03 177.48 L331.46 177.48 L331.89 177.47 L332.31 177.47 L332.74 177.47 L333.17 177.47 L333.6 177.46 L334.03 177.46 L334.46 177.46 L334.89 177.45 L335.31 177.45 L335.74 177.45 L336.17 177.44 L336.6 177.44 L337.03 177.43 L337.46 177.43 L337.89 177.42 L338.31 177.42 L338.74 177.41 L339.17 177.41 L339.6 177.4 L340.03 177.4 L340.46 177.39 L340.89 177.39 L341.31 177.38 L341.74 177.37 L342.17 177.37 L342.6 177.36 L343.03 177.35 L343.46 177.35 L343.89 177.34 L344.31 177.33 L344.74 177.33 L345.17 177.32 L345.6 177.31 L346.03 177.3 L346.46 177.3 L346.89 177.29 L347.31 177.28 L347.74 177.27 L348.17 177.26 L348.6 177.25 L349.03 177.25 L349.46 177.24 L349.89 177.23 L350.31 177.22 L350.74 177.21 L351.17 177.2 L351.6 177.19 L352.03 177.18 L352.46 177.18 L352.89 177.17 L353.31 177.16 L353.74 177.15 L354.17 177.14 L354.6 177.12 L355.03 177.11 L355.46 177.1 L355.89 177.08 L356.31 177.07 L356.74 177.05 L357.17 177.03 L357.6 177.01 L358.03 176.99 L358.46 176.97 L358.89 176.95 L359.31 176.93 L359.74 176.91 L360.17 176.89 L360.6 176.86 L361.03 176.84 L361.46 176.81 L361.89 176.79 L362.31 176.76 L362.74 176.73 L363.17 176.71 L363.6 176.68 L364.03 176.65 L364.46 176.62 L364.89 176.59 L365.31 176.56 L365.74 176.53 L366.17 176.5 L366.6 176.47 L367.03 176.43 L367.46 176.4 L367.89 176.36 L368.31 176.33 L368.74 176.29 L369.17 176.24 L369.6 176.2 L370.03 176.16 L370.46 176.11 L370.89 176.06 L371.31 176.01 L371.74 175.95 L372.17 175.9 L372.6 175.84 L373.03 175.78 L373.46 175.72 L373.89 175.65 L374.31 175.58 L374.74 175.51 L375.17 175.44 L375.6 175.36 L376.03 175.28 L376.46 175.19 L376.89 175.09 L377.31 174.99 L377.74 174.88 L378.17 174.77 L378.6 174.64 L379.03 174.51 L379.46 174.38 L379.89 174.23 L380.31 174.07 L380.74 173.9 L381.17 173.73 L381.6 173.54 L382.03 173.34 L382.46 173.09 L382.89 172.82 L383.31 172.5 L383.74 172.16 L384.17 171.78 L384.6 171.37 L385.03 170.92 L385.46 170.44 L385.89 169.93 L386.31 169.35 L386.74 168.66 L387.17 167.87 L387.6 166.99 L388.03 166.03 L388.46 164.98 L388.89 163.85 L389.31 162.66 L389.74 161.4 L390.17 160.07 L390.6 158.66 L391.03 157.12 L391.46 155.41 L391.89 153.52 L392.31 151.42 L392.74 149.09 L393.17 146.51 L393.6 143.65 L394.03 139.9 L394.46 134.96 L394.89 129.3 L395.31 123.35 L395.74 117.58 L396.17 112.44 L396.6 107.7 L397.03 102.9 L397.46 98.19 L397.89 93.69 L398.31 89.55 L398.74 85.9 L399.17 82.88 L399.6 80.18 L400.03 77.48 L400.46 74.88 L400.89 72.48 L401.31 70.37 L401.74 68.67 L402.17 67.45 L402.6 66.84 L403.03 66.89 L403.46 67.53 L403.89 68.65 L404.31 70.15 L404.74 71.93 L405.17 73.89 L405.6 75.93 L406.03 77.95 L406.46 80.18 L406.89 82.87 L407.31 85.91 L407.74 89.2 L408.17 92.64 L408.6 96.13 L409.03 99.56 L409.46 102.85 L409.89 105.87 L410.31 108.79 L410.74 111.76 L411.17 114.73 L411.6 117.63 L412.03 120.4 L412.46 122.96 L412.89 125.26 L413.31 127.22 L413.74 128.99 L414.17 130.67 L414.6 132.22 L415.03 133.57 L415.46 134.66 L415.89 135.44 L416.31 136.02 L416.74 136.57 L417.17 137.04 L417.6 137.41 L418.03 137.65 L418.46 137.74 L418.89 137.65 L419.31 137.43 L419.74 137.09 L420.17 136.68 L420.6 136.23 L421.03 135.77 L421.46 135.21 L421.89 134.5 L422.31 133.66 L422.74 132.76 L423.17 131.85 L423.6 130.97 L424.03 130.18 L424.46 129.52 L424.89 128.93 L425.31 128.32 L425.74 127.71 L426.17 127.15 L426.6 126.65 L427.03 126.26 L427.46 126 L427.89 125.91 L428.31 125.93 L428.74 125.98 L429.17 126.06 L429.6 126.16 L430.03 126.28 L430.46 126.42 L430.89 126.56 L431.31 126.7 L431.74 126.85 L432.17 126.99 L432.6 127.11 L433.03 127.22 L433.46 127.33 L433.89 127.44 L434.31 127.55 L434.74 127.67 L435.17 127.78 L435.6 127.9 L436.03 128.01 L436.46 128.11 L436.89 128.21 L437.31 128.3 L437.74 128.38 L438.17 128.45 L438.6 128.5 L439.03 128.54 L439.46 128.57 L439.89 128.6 L440.31 128.62 L440.74 128.65 L441.17 128.67 L441.6 128.7 L442.03 128.72 L442.46 128.74 L442.89 128.76 L443.31 128.78 L443.74 128.79 L444.17 128.81 L444.6 128.82 L445.03 128.83 L445.46 128.84 L445.89 128.85 L446.31 128.86 L446.74 128.86 L447.17 128.87 L447.6 128.87 L448.03 128.86 L448.46 128.82 L448.89 128.76 L449.31 128.68 L449.74 128.59 L450.17 128.47 L450.6 128.35 L451.03 128.21 L451.46 128.06 L451.89 127.9 L452.31 127.73 L452.74 127.55 L453.17 127.33 L453.6 127.02 L454.03 126.63 L454.46 126.18 L454.89 125.67 L455.31 125.13 L455.74 124.55 L456.17 123.96 L456.6 123.35 L457.03 122.76 L457.46 122.18 L457.89 121.63 L458.31 121.12 L458.74 120.66 L459.17 120.21 L459.6 119.75 L460.03 119.26 L460.46 118.77 L460.89 118.26 L461.31 117.76 L461.74 117.25 L462.17 116.75 L462.6 116.27 L463.03 115.8 L463.46 115.35 L463.89 114.93 L464.31 114.54 L464.74 114.19 L465.17 113.88 L465.6 113.61 L466.03 113.39 L466.46 113.23 L466.89 113.13 L467.31 113.1 L467.74 113.13 L468.17 113.21 L468.6 113.34 L469.03 113.52 L469.46 113.73 L469.89 113.98 L470.31 114.26 L470.74 114.57 L471.17 114.9 L471.6 115.25 L472.03 115.61 L472.46 115.97 L472.89 116.34 L473.31 116.71 L473.74 117.12 L474.17 117.61 L474.6 118.16 L475.03 118.77 L475.46 119.43 L475.89 120.13 L476.31 120.86 L476.74 121.61 L477.17 122.37 L477.6 123.14 L478.03 123.89 L478.46 124.63 L478.89 125.34 L479.31 126.02 L479.74 126.65 L480.17 127.22 L480.6 127.78 L481.03 128.34 L481.46 128.9 L481.89 129.46 L482.31 130.01 L482.74 130.55 L483.17 131.07 L483.6 131.57 L484.03 132.05 L484.46 132.48 L484.89 132.88 L485.31 133.24 L485.74 133.54 L486.17 133.79 L486.6 134.01 L487.03 134.22 L487.46 134.42 L487.89 134.61 L488.31 134.78 L488.74 134.95 L489.17 135.11 L489.6 135.26 L490.03 135.4 L490.46 135.53 L490.89 135.65 L491.31 135.75 L491.74 135.85 L492.17 135.94 L492.6 136.02 L493.03 136.09 L493.46 136.16 L493.89 136.22 L494.31 136.28 L494.74 136.34 L495.17 136.39 L495.6 136.44 L496.03 136.49 L496.46 136.54 L496.89 136.59 L497.31 136.64 L497.74 136.68 L498.17 136.72 L498.6 136.76 L499.03 136.8 L499.46 136.84 L499.89 136.87 L500.31 136.91 L500.74 136.94 L501.17 136.97 L501.6 137.01 L502.03 137.04 L502.46 137.07 L502.89 137.1 L503.31 137.13 L503.74 137.16 L504.17 137.18 L504.6 137.21 L505.03 137.24 L505.46 137.27 L505.89 137.3 L506.31 137.32 L506.74 137.35 L507.17 137.38 L507.6 137.41 L508.03 137.44 L508.46 137.47 L508.89 137.49 L509.31 137.52 L509.74 137.55 L510.17 137.57 L510.6 137.6 L511.03 137.63 L511.46 137.65 L511.89 137.68 L512.31 137.7 L512.74 137.72 L513.17 137.75 L513.6 137.77 L514.03 137.8 L514.46 137.82 L514.89 137.84 L515.31 137.87 L515.74 137.89 L516.17 137.91 L516.6 137.93 L517.03 137.95 L517.46 137.98 L517.89 138 L518.31 138.02 L518.74 138.04 L519.17 138.06 L519.6 138.08 L520.03 138.1 L520.46 138.12 L520.89 138.14 L521.31 138.16 L521.74 138.18 L522.17 138.2 L522.6 138.22 L523.03 138.24 L523.46 138.26 L523.89 138.28 L524.31 138.3 L524.74 138.32 L525.17 138.34 L525.6 138.36 L526.03 138.38 L526.46 138.4 L526.89 138.42 L527.31 138.44 L527.74 138.46 L528.17 138.48 L528.6 138.5 L529.03 138.52 L529.46 138.54 L529.89 138.56 L530.31 138.58 L530.74 138.6 L531.17 138.62 L531.6 138.64 L532.03 138.66 L532.46 138.68 L532.89 138.7 L533.31 138.72 L533.74 138.74 L534.17 138.76 L534.6 138.79 L535.03 138.81 L535.46 138.83 L535.89 138.85 L536.31 138.87 L536.74 138.89 L537.17 138.91 L537.6 138.93 L538.03 138.96 L538.46 138.98 L538.89 139 L539.31 139.02 L539.74 139.04 L540.17 139.06 L540.6 139.08 L541.03 139.1 L541.46 139.12 L541.89 139.14 L542.31 139.16 L542.74 139.19 L543.17 139.21 L543.6 139.23 L544.03 139.25 L544.46 139.27 L544.89 139.29 L545.31 139.31 L545.74 139.33 L546.17 139.35 L546.6 139.37 L547.03 139.39 L547.46 139.41 L547.89 139.43 L548.31 139.46 L548.74 139.48 L549.17 139.5 L549.6 139.52 L550.03 139.54 L550.46 139.56 L550.89 139.58 L551.31 139.6 L551.74 139.62 L552.17 139.64 L552.6 139.66 L553.03 139.68 L553.46 139.7 L553.89 139.72 L554.31 139.74 L554.74 139.76 L555.17 139.78 L555.6 139.8 L556.03 139.82 L556.46 139.84 L556.89 139.86 L557.31 139.88 L557.74 139.91 L558.17 139.93 L558.6 139.95 L559.03 139.97 L559.46 139.99 L559.89 140.01 L560.31 140.03 L560.74 140.05 L561.17 140.07 L561.6 140.09 L562.03 140.11 L562.46 140.13 L562.89 140.15 L563.31 140.17 L563.74 140.19 L564.17 140.21 L564.6 140.23 L565.03 140.25 L565.46 140.27 L565.89 140.29 L566.31 140.31 L566.74 140.33 L567.17 140.35 L567.6 140.37" stroke="#e0453a" stroke-width="1.5" fill="none" stroke-linejoin="round" opacity="1"/><path d="M327.6 177.49 L328.03 177.49 L328.46 177.49 L328.89 177.48 L329.31 177.48 L329.74 177.48 L330.17 177.48 L330.6 177.48 L331.03 177.48 L331.46 177.48 L331.89 177.47 L332.31 177.47 L332.74 177.47 L333.17 177.47 L333.6 177.46 L334.03 177.46 L334.46 177.46 L334.89 177.45 L335.31 177.45 L335.74 177.45 L336.17 177.44 L336.6 177.44 L337.03 177.43 L337.46 177.43 L337.89 177.42 L338.31 177.42 L338.74 177.41 L339.17 177.41 L339.6 177.4 L340.03 177.4 L340.46 177.39 L340.89 177.39 L341.31 177.38 L341.74 177.37 L342.17 177.37 L342.6 177.36 L343.03 177.35 L343.46 177.35 L343.89 177.34 L344.31 177.33 L344.74 177.33 L345.17 177.32 L345.6 177.31 L346.03 177.3 L346.46 177.3 L346.89 177.29 L347.31 177.28 L347.74 177.27 L348.17 177.26 L348.6 177.25 L349.03 177.25 L349.46 177.24 L349.89 177.23 L350.31 177.22 L350.74 177.21 L351.17 177.2 L351.6 177.19 L352.03 177.18 L352.46 177.18 L352.89 177.17 L353.31 177.16 L353.74 177.15 L354.17 177.14 L354.6 177.12 L355.03 177.11 L355.46 177.1 L355.89 177.08 L356.31 177.07 L356.74 177.05 L357.17 177.03 L357.6 177.01 L358.03 176.99 L358.46 176.97 L358.89 176.95 L359.31 176.93 L359.74 176.91 L360.17 176.89 L360.6 176.86 L361.03 176.84 L361.46 176.81 L361.89 176.79 L362.31 176.76 L362.74 176.73 L363.17 176.71 L363.6 176.68 L364.03 176.65 L364.46 176.62 L364.89 176.59 L365.31 176.56 L365.74 176.53 L366.17 176.5 L366.6 176.47 L367.03 176.43 L367.46 176.4 L367.89 176.36 L368.31 176.33 L368.74 176.29 L369.17 176.24 L369.6 176.2 L370.03 176.16 L370.46 176.11 L370.89 176.06 L371.31 176.01 L371.74 175.95 L372.17 175.9 L372.6 175.84 L373.03 175.78 L373.46 175.72 L373.89 175.65 L374.31 175.58 L374.74 175.51 L375.17 175.44 L375.6 175.36 L376.03 175.28 L376.46 175.19 L376.89 175.09 L377.31 174.99 L377.74 174.88 L378.17 174.77 L378.6 174.64 L379.03 174.51 L379.46 174.38 L379.89 174.23 L380.31 174.07 L380.74 173.9 L381.17 173.73 L381.6 173.54 L382.03 173.34 L382.46 173.09 L382.89 172.82 L383.31 172.5 L383.74 172.16 L384.17 171.78 L384.6 171.37 L385.03 170.92 L385.46 170.44 L385.89 169.93 L386.31 169.35 L386.74 168.66 L387.17 167.87 L387.6 166.99 L388.03 166.03 L388.46 164.98 L388.89 163.85 L389.31 162.66 L389.74 161.4 L390.17 160.07 L390.6 158.58 L391.03 156.83 L391.46 154.88 L391.89 152.76 L392.31 150.53 L392.74 148.24 L393.17 145.93 L393.6 143.65 L394.03 141.27 L394.46 138.7 L394.89 136.06 L395.31 133.46 L395.74 131.03 L396.17 128.87 L396.6 126.88 L397.03 124.92 L397.46 123.05 L397.89 121.3 L398.31 119.74 L398.74 118.41 L399.17 117.37 L399.6 116.5 L400.03 115.65 L400.46 114.85 L400.89 114.12 L401.31 113.49 L401.74 112.99 L402.17 112.64 L402.6 112.46 L403.03 112.49 L403.46 112.75 L403.89 113.23 L404.31 113.86 L404.74 114.64 L405.17 115.5 L405.6 116.42 L406.03 117.37 L406.46 118.51 L406.89 119.99 L407.31 121.74 L407.74 123.68 L408.17 125.75 L408.6 127.86 L409.03 129.96 L409.46 131.96 L409.89 133.79 L410.31 135.57 L410.74 137.41 L411.17 139.25 L411.6 141.06 L412.03 142.79 L412.46 144.37 L412.89 145.77 L413.31 146.94 L413.74 147.95 L414.17 148.92 L414.6 149.8 L415.03 150.56 L415.46 151.15 L415.89 151.53 L416.31 151.79 L416.74 152.03 L417.17 152.23 L417.6 152.38 L418.03 152.48 L418.46 152.52 L418.89 152.46 L419.31 152.29 L419.74 152.06 L420.17 151.78 L420.6 151.48 L421.03 151.21 L421.46 150.92 L421.89 150.6 L422.31 150.24 L422.74 149.86 L423.17 149.48 L423.6 149.11 L424.03 148.75 L424.46 148.43 L424.89 148.15 L425.31 147.92 L425.74 147.73 L426.17 147.55 L426.6 147.38 L427.03 147.21 L427.46 147.06 L427.89 146.92 L428.31 146.79 L428.74 146.66 L429.17 146.55 L429.6 146.45 L430.03 146.36 L430.46 146.28 L430.89 146.21 L431.31 146.14 L431.74 146.08 L432.17 146.02 L432.6 145.96 L433.03 145.91 L433.46 145.86 L433.89 145.82 L434.31 145.78 L434.74 145.73 L435.17 145.69 L435.6 145.65 L436.03 145.61 L436.46 145.57 L436.89 145.53 L437.31 145.49 L437.74 145.44 L438.17 145.4 L438.6 145.35 L439.03 145.29 L439.46 145.24 L439.89 145.19 L440.31 145.14 L440.74 145.09 L441.17 145.05 L441.6 145 L442.03 144.95 L442.46 144.9 L442.89 144.85 L443.31 144.79 L443.74 144.73 L444.17 144.66 L444.6 144.58 L445.03 144.5 L445.46 144.41 L445.89 144.31 L446.31 144.18 L446.74 144.03 L447.17 143.84 L447.6 143.62 L448.03 143.37 L448.46 143.08 L448.89 142.76 L449.31 142.42 L449.74 142.04 L450.17 141.63 L450.6 141.19 L451.03 140.73 L451.46 140.23 L451.89 139.71 L452.31 139.09 L452.74 138.31 L453.17 137.38 L453.6 136.31 L454.03 135.09 L454.46 133.75 L454.89 132.29 L455.31 130.71 L455.74 129.02 L456.17 127.22 L456.6 125.1 L457.03 122.48 L457.46 119.43 L457.89 116.05 L458.31 112.42 L458.74 108.64 L459.17 104.79 L459.6 100.95 L460.03 96.83 L460.46 92.21 L460.89 87.28 L461.31 82.24 L461.74 77.28 L462.17 72.59 L462.6 68.37 L463.03 64.81 L463.46 61.57 L463.89 58.26 L464.31 54.97 L464.74 51.81 L465.17 48.86 L465.6 46.23 L466.03 44.01 L466.46 42.31 L466.89 41.22 L467.31 40.83 L467.74 41.21 L468.17 42.28 L468.6 43.95 L469.03 46.09 L469.46 48.61 L469.89 51.4 L470.31 54.36 L470.74 57.37 L471.17 60.35 L471.6 63.17 L472.03 66.09 L472.46 69.38 L472.89 72.93 L473.31 76.66 L473.74 80.48 L474.17 84.3 L474.6 88.01 L475.03 91.54 L475.46 94.79 L475.89 97.66 L476.31 100.3 L476.74 102.9 L477.17 105.45 L477.6 107.92 L478.03 110.31 L478.46 112.59 L478.89 114.76 L479.31 116.79 L479.74 118.68 L480.17 120.4 L480.6 121.94 L481.03 123.28 L481.46 124.52 L481.89 125.72 L482.31 126.88 L482.74 128 L483.17 129.05 L483.6 130.04 L484.03 130.94 L484.46 131.74 L484.89 132.44 L485.31 133.02 L485.74 133.48 L486.17 133.79 L486.6 134.03 L487.03 134.25 L487.46 134.46 L487.89 134.65 L488.31 134.83 L488.74 134.99 L489.17 135.15 L489.6 135.29 L490.03 135.42 L490.46 135.55 L490.89 135.66 L491.31 135.77 L491.74 135.87 L492.17 135.96 L492.6 136.05 L493.03 136.13 L493.46 136.21 L493.89 136.28 L494.31 136.35 L494.74 136.42 L495.17 136.49 L495.6 136.56 L496.03 136.62 L496.46 136.68 L496.89 136.74 L497.31 136.8 L497.74 136.86 L498.17 136.91 L498.6 136.96 L499.03 137.02 L499.46 137.07 L499.89 137.11 L500.31 137.16 L500.74 137.21 L501.17 137.25 L501.6 137.29 L502.03 137.33 L502.46 137.37 L502.89 137.41 L503.31 137.45 L503.74 137.48 L504.17 137.52 L504.6 137.55 L505.03 137.58 L505.46 137.61 L505.89 137.64 L506.31 137.66 L506.74 137.69 L507.17 137.71 L507.6 137.74 L508.03 137.76 L508.46 137.78 L508.89 137.8 L509.31 137.82 L509.74 137.84 L510.17 137.86 L510.6 137.88 L511.03 137.9 L511.46 137.92 L511.89 137.93 L512.31 137.95 L512.74 137.97 L513.17 137.98 L513.6 138 L514.03 138.01 L514.46 138.03 L514.89 138.04 L515.31 138.06 L515.74 138.07 L516.17 138.08 L516.6 138.1 L517.03 138.11 L517.46 138.12 L517.89 138.13 L518.31 138.14 L518.74 138.16 L519.17 138.17 L519.6 138.18 L520.03 138.19 L520.46 138.2 L520.89 138.21 L521.31 138.22 L521.74 138.23 L522.17 138.24 L522.6 138.25 L523.03 138.26 L523.46 138.27 L523.89 138.28 L524.31 138.29 L524.74 138.3 L525.17 138.31 L525.6 138.33 L526.03 138.34 L526.46 138.35 L526.89 138.36 L527.31 138.37 L527.74 138.38 L528.17 138.39 L528.6 138.4 L529.03 138.41 L529.46 138.42 L529.89 138.43 L530.31 138.44 L530.74 138.46 L531.17 138.47 L531.6 138.48 L532.03 138.49 L532.46 138.5 L532.89 138.52 L533.31 138.53 L533.74 138.55 L534.17 138.56 L534.6 138.57 L535.03 138.59 L535.46 138.6 L535.89 138.62 L536.31 138.64 L536.74 138.65 L537.17 138.67 L537.6 138.69 L538.03 138.7 L538.46 138.72 L538.89 138.74 L539.31 138.76 L539.74 138.78 L540.17 138.8 L540.6 138.82 L541.03 138.84 L541.46 138.86 L541.89 138.88 L542.31 138.91 L542.74 138.93 L543.17 138.95 L543.6 138.97 L544.03 139 L544.46 139.02 L544.89 139.04 L545.31 139.07 L545.74 139.09 L546.17 139.12 L546.6 139.14 L547.03 139.17 L547.46 139.19 L547.89 139.22 L548.31 139.25 L548.74 139.27 L549.17 139.3 L549.6 139.33 L550.03 139.36 L550.46 139.38 L550.89 139.41 L551.31 139.44 L551.74 139.47 L552.17 139.5 L552.6 139.53 L553.03 139.56 L553.46 139.59 L553.89 139.62 L554.31 139.65 L554.74 139.68 L555.17 139.71 L555.6 139.74 L556.03 139.77 L556.46 139.8 L556.89 139.83 L557.31 139.87 L557.74 139.9 L558.17 139.93 L558.6 139.96 L559.03 140 L559.46 140.03 L559.89 140.06 L560.31 140.1 L560.74 140.13 L561.17 140.16 L561.6 140.2 L562.03 140.23 L562.46 140.27 L562.89 140.3 L563.31 140.34 L563.74 140.37 L564.17 140.41 L564.6 140.44 L565.03 140.48 L565.46 140.51 L565.89 140.55 L566.31 140.58 L566.74 140.62 L567.17 140.66 L567.6 140.69" stroke="#151515" stroke-width="1.5" fill="none" stroke-linejoin="round" opacity="1"/><path d="M327.6 177.49 L328.03 177.49 L328.46 177.49 L328.89 177.48 L329.31 177.48 L329.74 177.48 L330.17 177.48 L330.6 177.48 L331.03 177.48 L331.46 177.48 L331.89 177.47 L332.31 177.47 L332.74 177.47 L333.17 177.47 L333.6 177.46 L334.03 177.46 L334.46 177.46 L334.89 177.45 L335.31 177.45 L335.74 177.45 L336.17 177.44 L336.6 177.44 L337.03 177.43 L337.46 177.43 L337.89 177.42 L338.31 177.42 L338.74 177.41 L339.17 177.41 L339.6 177.4 L340.03 177.4 L340.46 177.39 L340.89 177.39 L341.31 177.38 L341.74 177.37 L342.17 177.37 L342.6 177.36 L343.03 177.35 L343.46 177.35 L343.89 177.34 L344.31 177.33 L344.74 177.33 L345.17 177.32 L345.6 177.31 L346.03 177.3 L346.46 177.3 L346.89 177.29 L347.31 177.28 L347.74 177.27 L348.17 177.26 L348.6 177.25 L349.03 177.25 L349.46 177.24 L349.89 177.23 L350.31 177.22 L350.74 177.21 L351.17 177.2 L351.6 177.19 L352.03 177.18 L352.46 177.18 L352.89 177.17 L353.31 177.16 L353.74 177.15 L354.17 177.14 L354.6 177.12 L355.03 177.11 L355.46 177.1 L355.89 177.08 L356.31 177.07 L356.74 177.05 L357.17 177.03 L357.6 177.01 L358.03 176.99 L358.46 176.97 L358.89 176.95 L359.31 176.93 L359.74 176.91 L360.17 176.89 L360.6 176.86 L361.03 176.84 L361.46 176.81 L361.89 176.79 L362.31 176.76 L362.74 176.73 L363.17 176.71 L363.6 176.68 L364.03 176.65 L364.46 176.62 L364.89 176.59 L365.31 176.56 L365.74 176.53 L366.17 176.5 L366.6 176.47 L367.03 176.43 L367.46 176.4 L367.89 176.36 L368.31 176.33 L368.74 176.29 L369.17 176.24 L369.6 176.2 L370.03 176.16 L370.46 176.11 L370.89 176.06 L371.31 176.01 L371.74 175.95 L372.17 175.9 L372.6 175.84 L373.03 175.78 L373.46 175.72 L373.89 175.65 L374.31 175.58 L374.74 175.51 L375.17 175.44 L375.6 175.36 L376.03 175.28 L376.46 175.19 L376.89 175.09 L377.31 174.99 L377.74 174.88 L378.17 174.77 L378.6 174.64 L379.03 174.51 L379.46 174.38 L379.89 174.23 L380.31 174.07 L380.74 173.9 L381.17 173.73 L381.6 173.54 L382.03 173.34 L382.46 173.09 L382.89 172.82 L383.31 172.5 L383.74 172.16 L384.17 171.78 L384.6 171.37 L385.03 170.92 L385.46 170.44 L385.89 169.93 L386.31 169.35 L386.74 168.66 L387.17 167.87 L387.6 166.99 L388.03 166.03 L388.46 164.98 L388.89 163.85 L389.31 162.66 L389.74 161.4 L390.17 160.07 L390.6 158.62 L391.03 156.95 L391.46 155.09 L391.89 153.07 L392.31 150.89 L392.74 148.58 L393.17 146.16 L393.6 143.65 L394.03 140.84 L394.46 137.62 L394.89 134.16 L395.31 130.62 L395.74 127.16 L396.17 123.94 L396.6 120.79 L397.03 117.5 L397.46 114.22 L397.89 111.11 L398.31 108.31 L398.74 105.97 L399.17 104.23 L399.6 102.86 L400.03 101.54 L400.46 100.31 L400.89 99.2 L401.31 98.25 L401.74 97.49 L402.17 96.96 L402.6 96.7 L403.03 96.75 L403.46 97.18 L403.89 97.93 L404.31 98.94 L404.74 100.14 L405.17 101.47 L405.6 102.85 L406.03 104.23 L406.46 105.78 L406.89 107.66 L407.31 109.81 L407.74 112.14 L408.17 114.59 L408.6 117.06 L409.03 119.5 L409.46 121.82 L409.89 123.94 L410.31 125.97 L410.74 128.04 L411.17 130.11 L411.6 132.11 L412.03 134.02 L412.46 135.79 L412.89 137.37 L413.31 138.72 L413.74 139.93 L414.17 141.1 L414.6 142.16 L415.03 143.09 L415.46 143.82 L415.89 144.31 L416.31 144.65 L416.74 144.96 L417.17 145.23 L417.6 145.44 L418.03 145.57 L418.46 145.62 L418.89 145.53 L419.31 145.29 L419.74 144.94 L420.17 144.52 L420.6 144.08 L421.03 143.65 L421.46 143.2 L421.89 142.67 L422.31 142.1 L422.74 141.5 L423.17 140.9 L423.6 140.33 L424.03 139.81 L424.46 139.38 L424.89 138.99 L425.31 138.58 L425.74 138.18 L426.17 137.78 L426.6 137.42 L427.03 137.09 L427.46 136.82 L427.89 136.61 L428.31 136.47 L428.74 136.42 L429.17 136.42 L429.6 136.42 L430.03 136.42 L430.46 136.42 L430.89 136.42 L431.31 136.42 L431.74 136.42 L432.17 136.42 L432.6 136.42 L433.03 136.42 L433.46 136.42 L433.89 136.42 L434.31 136.42 L434.74 136.42 L435.17 136.42 L435.6 136.42 L436.03 136.42 L436.46 136.42 L436.89 136.42 L437.31 136.42 L437.74 136.42 L438.17 136.42 L438.6 136.42 L439.03 136.42 L439.46 136.42 L439.89 136.42 L440.31 136.42 L440.74 136.42 L441.17 136.42 L441.6 136.42 L442.03 136.42 L442.46 136.42 L442.89 136.42 L443.31 136.42 L443.74 136.41 L444.17 136.38 L444.6 136.34 L445.03 136.27 L445.46 136.19 L445.89 136.09 L446.31 135.97 L446.74 135.84 L447.17 135.7 L447.6 135.54 L448.03 135.37 L448.46 135.18 L448.89 134.99 L449.31 134.78 L449.74 134.5 L450.17 134.08 L450.6 133.54 L451.03 132.89 L451.46 132.13 L451.89 131.29 L452.31 130.36 L452.74 129.37 L453.17 128.32 L453.6 127.22 L454.03 125.94 L454.46 124.35 L454.89 122.5 L455.31 120.42 L455.74 118.18 L456.17 115.8 L456.6 113.34 L457.03 110.83 L457.46 108.33 L457.89 105.87 L458.31 103.29 L458.74 100.42 L459.17 97.37 L459.6 94.22 L460.03 91.05 L460.46 87.95 L460.89 85 L461.31 82.29 L461.74 79.92 L462.17 77.95 L462.6 76.21 L463.03 74.45 L463.46 72.72 L463.89 71.04 L464.31 69.45 L464.74 67.96 L465.17 66.63 L465.6 65.46 L466.03 64.5 L466.46 63.78 L466.89 63.33 L467.31 63.17 L467.74 63.42 L468.17 64.11 L468.6 65.2 L469.03 66.6 L469.46 68.25 L469.89 70.09 L470.31 72.04 L470.74 74.05 L471.17 76.04 L471.6 77.95 L472.03 79.95 L472.46 82.2 L472.89 84.66 L473.31 87.26 L473.74 89.94 L474.17 92.65 L474.6 95.32 L475.03 97.91 L475.46 100.35 L475.89 102.59 L476.31 104.71 L476.74 106.85 L477.17 108.98 L477.6 111.09 L478.03 113.15 L478.46 115.14 L478.89 117.05 L479.31 118.85 L479.74 120.52 L480.17 122.05 L480.6 123.42 L481.03 124.6 L481.46 125.67 L481.89 126.72 L482.31 127.74 L482.74 128.71 L483.17 129.64 L483.6 130.5 L484.03 131.29 L484.46 131.99 L484.89 132.61 L485.31 133.12 L485.74 133.52 L486.17 133.79 L486.6 134 L487.03 134.19 L487.46 134.37 L487.89 134.54 L488.31 134.69 L488.74 134.84 L489.17 134.97 L489.6 135.09 L490.03 135.21 L490.46 135.31 L490.89 135.41 L491.31 135.51 L491.74 135.59 L492.17 135.67 L492.6 135.75 L493.03 135.82 L493.46 135.89 L493.89 135.96 L494.31 136.03 L494.74 136.09 L495.17 136.16 L495.6 136.22 L496.03 136.28 L496.46 136.34 L496.89 136.4 L497.31 136.46 L497.74 136.52 L498.17 136.57 L498.6 136.62 L499.03 136.68 L499.46 136.73 L499.89 136.77 L500.31 136.82 L500.74 136.87 L501.17 136.91 L501.6 136.96 L502.03 137 L502.46 137.04 L502.89 137.08 L503.31 137.11 L503.74 137.15 L504.17 137.18 L504.6 137.22 L505.03 137.25 L505.46 137.28 L505.89 137.31 L506.31 137.33 L506.74 137.36 L507.17 137.39 L507.6 137.41 L508.03 137.43 L508.46 137.45 L508.89 137.47 L509.31 137.49 L509.74 137.51 L510.17 137.53 L510.6 137.55 L511.03 137.57 L511.46 137.59 L511.89 137.6 L512.31 137.62 L512.74 137.64 L513.17 137.65 L513.6 137.67 L514.03 137.68 L514.46 137.7 L514.89 137.71 L515.31 137.73 L515.74 137.74 L516.17 137.75 L516.6 137.77 L517.03 137.78 L517.46 137.79 L517.89 137.8 L518.31 137.82 L518.74 137.83 L519.17 137.84 L519.6 137.85 L520.03 137.86 L520.46 137.87 L520.89 137.88 L521.31 137.89 L521.74 137.9 L522.17 137.91 L522.6 137.93 L523.03 137.94 L523.46 137.95 L523.89 137.96 L524.31 137.97 L524.74 137.98 L525.17 137.99 L525.6 138 L526.03 138.01 L526.46 138.02 L526.89 138.03 L527.31 138.04 L527.74 138.05 L528.17 138.06 L528.6 138.07 L529.03 138.08 L529.46 138.09 L529.89 138.1 L530.31 138.12 L530.74 138.13 L531.17 138.14 L531.6 138.15 L532.03 138.16 L532.46 138.18 L532.89 138.19 L533.31 138.2 L533.74 138.22 L534.17 138.23 L534.6 138.25 L535.03 138.26 L535.46 138.28 L535.89 138.29 L536.31 138.31 L536.74 138.32 L537.17 138.34 L537.6 138.36 L538.03 138.38 L538.46 138.39 L538.89 138.41 L539.31 138.43 L539.74 138.45 L540.17 138.47 L540.6 138.49 L541.03 138.51 L541.46 138.53 L541.89 138.56 L542.31 138.58 L542.74 138.6 L543.17 138.62 L543.6 138.64 L544.03 138.67 L544.46 138.69 L544.89 138.72 L545.31 138.74 L545.74 138.76 L546.17 138.79 L546.6 138.81 L547.03 138.84 L547.46 138.87 L547.89 138.89 L548.31 138.92 L548.74 138.95 L549.17 138.97 L549.6 139 L550.03 139.03 L550.46 139.06 L550.89 139.08 L551.31 139.11 L551.74 139.14 L552.17 139.17 L552.6 139.2 L553.03 139.23 L553.46 139.26 L553.89 139.29 L554.31 139.32 L554.74 139.35 L555.17 139.38 L555.6 139.41 L556.03 139.44 L556.46 139.47 L556.89 139.51 L557.31 139.54 L557.74 139.57 L558.17 139.6 L558.6 139.64 L559.03 139.67 L559.46 139.7 L559.89 139.73 L560.31 139.77 L560.74 139.8 L561.17 139.84 L561.6 139.87 L562.03 139.9 L562.46 139.94 L562.89 139.97 L563.31 140.01 L563.74 140.04 L564.17 140.08 L564.6 140.11 L565.03 140.15 L565.46 140.18 L565.89 140.22 L566.31 140.26 L566.74 140.29 L567.17 140.33 L567.6 140.37" stroke="#3447b4" stroke-width="1.7" fill="none" stroke-linejoin="round" opacity="1"/></g><rect x="327.6" y="22.7" width="240" height="168" fill="none" stroke="#2a2a2a" stroke-width="1.5"/><path d="M336.17 190.7V186.7M336.17 22.7V26.7M344.74 190.7V186.7M344.74 22.7V26.7M361.89 190.7V186.7M361.89 22.7V26.7M370.46 190.7V186.7M370.46 22.7V26.7M379.03 190.7V186.7M379.03 22.7V26.7M387.6 190.7V186.7M387.6 22.7V26.7M404.74 190.7V186.7M404.74 22.7V26.7M413.31 190.7V186.7M413.31 22.7V26.7M421.89 190.7V186.7M421.89 22.7V26.7M430.46 190.7V186.7M430.46 22.7V26.7M447.6 190.7V186.7M447.6 22.7V26.7M456.17 190.7V186.7M456.17 22.7V26.7M464.74 190.7V186.7M464.74 22.7V26.7M473.31 190.7V186.7M473.31 22.7V26.7M490.46 190.7V186.7M490.46 22.7V26.7M499.03 190.7V186.7M499.03 22.7V26.7M507.6 190.7V186.7M507.6 22.7V26.7M516.17 190.7V186.7M516.17 22.7V26.7M533.31 190.7V186.7M533.31 22.7V26.7M541.89 190.7V186.7M541.89 22.7V26.7M550.46 190.7V186.7M550.46 22.7V26.7M559.03 190.7V186.7M559.03 22.7V26.7" stroke="#2a2a2a" stroke-width="1.3" fill="none"/><path d="M353.31 190.7V182.7M353.31 22.7V30.7M396.17 190.7V182.7M396.17 22.7V30.7M439.03 190.7V182.7M439.03 22.7V30.7M481.89 190.7V182.7M481.89 22.7V30.7M524.74 190.7V182.7M524.74 22.7V30.7" stroke="#2a2a2a" stroke-width="1.3" fill="none"/><path d="M327.6 176.5H334.6M567.6 176.5H560.6M327.6 143.65H334.6M567.6 143.65H560.6M327.6 110.8H334.6M567.6 110.8H560.6M327.6 77.95H334.6M567.6 77.95H560.6M327.6 45.1H334.6M567.6 45.1H560.6" stroke="#2a2a2a" stroke-width="1.3" fill="none"/><text transform="translate(353.31 204.3) scale(1 1.08)" font-size="13" text-anchor="middle" fill="#262626" stroke="#262626" stroke-width="0.08">2465</text><text transform="translate(396.17 204.3) scale(1 1.08)" font-size="13" text-anchor="middle" fill="#262626" stroke="#262626" stroke-width="0.08">2470</text><text transform="translate(439.03 204.3) scale(1 1.08)" font-size="13" text-anchor="middle" fill="#262626" stroke="#262626" stroke-width="0.08">2475</text><text transform="translate(481.89 204.3) scale(1 1.08)" font-size="13" text-anchor="middle" fill="#262626" stroke="#262626" stroke-width="0.08">2480</text><text transform="translate(524.74 204.3) scale(1 1.08)" font-size="13" text-anchor="middle" fill="#262626" stroke="#262626" stroke-width="0.08">2485</text><text transform="translate(567.6 204.3) scale(1 1.08)" font-size="13" text-anchor="middle" fill="#262626" stroke="#262626" stroke-width="0.08">2490</text><text transform="translate(326 182.1) scale(1 1.0)" font-size="13" text-anchor="end" fill="#262626" stroke="#262626" stroke-width="0.08">0</text><text transform="translate(326 149.25) scale(1 1.0)" font-size="13" text-anchor="end" fill="#262626" stroke="#262626" stroke-width="0.08">1</text><text transform="translate(326 116.4) scale(1 1.0)" font-size="13" text-anchor="end" fill="#262626" stroke="#262626" stroke-width="0.08">2</text><text transform="translate(326 83.55) scale(1 1.0)" font-size="13" text-anchor="end" fill="#262626" stroke="#262626" stroke-width="0.08">3</text><text transform="translate(326 50.7) scale(1 1.0)" font-size="13" text-anchor="end" fill="#262626" stroke="#262626" stroke-width="0.08">4</text><text transform="translate(440.1 218) scale(1 1.0)" font-size="13.3" text-anchor="middle" fill="#262626" stroke="#262626" stroke-width="0.08">Energy (eV)</text><text x="0" y="0" font-size="13.7" text-anchor="middle" fill="#262626" stroke="#262626" stroke-width="0.08" transform="translate(315.1 104.2) rotate(-90)">Normalized Absorbance</text><text transform="translate(350.6 49.1) scale(1 1.0)" font-size="15.5" text-anchor="middle" fill="#262626" stroke="#262626" stroke-width="0.08">B</text><text transform="translate(516 50.8) scale(1 1.0)" font-size="13.5" text-anchor="start" fill="#262626" stroke="#262626" stroke-width="0.08">&#181;M</text><path d="M491.7 66.6H512.1" stroke="#36b936" stroke-width="1.8"/><text transform="translate(516.3 70.9) scale(1 1.0)" font-size="13.8" text-anchor="start" fill="#36b936" stroke="#36b936" stroke-width="0.08">0</text><path d="M491.7 80.7H512.1" stroke="#e0453a" stroke-width="1.8"/><text transform="translate(516.3 85) scale(1 1.0)" font-size="13.8" text-anchor="start" fill="#e0453a" stroke="#e0453a" stroke-width="0.08">1.5</text><path d="M491.7 94.8H512.1" stroke="#3447b4" stroke-width="1.8"/><text transform="translate(516.3 99.1) scale(1 1.0)" font-size="13.8" text-anchor="start" fill="#3447b4" stroke="#3447b4" stroke-width="0.08">15</text><path d="M491.7 108.9H512.1" stroke="#151515" stroke-width="1.8"/><text transform="translate(516.3 113.2) scale(1 1.0)" font-size="13.8" text-anchor="start" fill="#262626" stroke="#262626" stroke-width="0.08">150</text><rect x="36.7" y="241.8" width="240.8" height="169.2" fill="none" stroke="#2a2a2a" stroke-width="1.5"/><path d="M50.9 411V403M50.9 241.8V249.8M79.23 411V403M79.23 241.8V249.8M107.56 411V403M107.56 241.8V249.8M135.89 411V403M135.89 241.8V249.8M164.22 411V403M164.22 241.8V249.8M192.55 411V403M192.55 241.8V249.8M220.88 411V403M220.88 241.8V249.8M249.21 411V403M249.21 241.8V249.8M277.54 411V403M277.54 241.8V249.8" stroke="#2a2a2a" stroke-width="1.3" fill="none"/><path d="M36.7 404.77H40.7M277.5 404.77H273.5M36.7 392.23H40.7M277.5 392.23H273.5M36.7 385.97H40.7M277.5 385.97H273.5M36.7 379.7H40.7M277.5 379.7H273.5M36.7 373.43H40.7M277.5 373.43H273.5M36.7 360.9H40.7M277.5 360.9H273.5M36.7 354.63H40.7M277.5 354.63H273.5M36.7 348.36H40.7M277.5 348.36H273.5M36.7 342.1H40.7M277.5 342.1H273.5M36.7 329.56H40.7M277.5 329.56H273.5M36.7 323.3H40.7M277.5 323.3H273.5M36.7 317.03H40.7M277.5 317.03H273.5M36.7 310.76H40.7M277.5 310.76H273.5M36.7 298.23H40.7M277.5 298.23H273.5M36.7 291.96H40.7M277.5 291.96H273.5M36.7 285.69H40.7M277.5 285.69H273.5M36.7 279.43H40.7M277.5 279.43H273.5M36.7 266.89H40.7M277.5 266.89H273.5M36.7 260.63H40.7M277.5 260.63H273.5M36.7 254.36H40.7M277.5 254.36H273.5M36.7 248.09H40.7M277.5 248.09H273.5" stroke="#2a2a2a" stroke-width="1.3" fill="none"/><path d="M36.7 398.5H44.2M277.5 398.5H270M36.7 367.17H44.2M277.5 367.17H270M36.7 335.83H44.2M277.5 335.83H270M36.7 304.5H44.2M277.5 304.5H270M36.7 273.16H44.2M277.5 273.16H270M36.7 241.82H44.2M277.5 241.82H270" stroke="#2a2a2a" stroke-width="1.3" fill="none"/><text transform="translate(50.9 425.4) scale(1 1.05)" font-size="13" text-anchor="middle" fill="#262626" stroke="#262626" stroke-width="0.08">0</text><text transform="translate(79.23 425.4) scale(1 1.05)" font-size="13" text-anchor="middle" fill="#262626" stroke="#262626" stroke-width="0.08">1</text><text transform="translate(107.56 425.4) scale(1 1.05)" font-size="13" text-anchor="middle" fill="#262626" stroke="#262626" stroke-width="0.08">2</text><text transform="translate(135.89 425.4) scale(1 1.05)" font-size="13" text-anchor="middle" fill="#262626" stroke="#262626" stroke-width="0.08">3</text><text transform="translate(164.22 425.4) scale(1 1.05)" font-size="13" text-anchor="middle" fill="#262626" stroke="#262626" stroke-width="0.08">4</text><text transform="translate(192.55 425.4) scale(1 1.05)" font-size="13" text-anchor="middle" fill="#262626" stroke="#262626" stroke-width="0.08">5</text><text transform="translate(220.88 425.4) scale(1 1.05)" font-size="13" text-anchor="middle" fill="#262626" stroke="#262626" stroke-width="0.08">6</text><text transform="translate(249.21 425.4) scale(1 1.05)" font-size="13" text-anchor="middle" fill="#262626" stroke="#262626" stroke-width="0.08">7</text><text transform="translate(277.54 425.4) scale(1 1.05)" font-size="13" text-anchor="middle" fill="#262626" stroke="#262626" stroke-width="0.08">8</text><text transform="translate(34.4 404.5) scale(1 1.0)" font-size="13" text-anchor="end" fill="#262626" stroke="#262626" stroke-width="0.08">0</text><text transform="translate(34.4 373.17) scale(1 1.0)" font-size="13" text-anchor="end" fill="#262626" stroke="#262626" stroke-width="0.08">5</text><text transform="translate(34.4 341.83) scale(1 1.0)" font-size="13" text-anchor="end" fill="#262626" stroke="#262626" stroke-width="0.08">10</text><text transform="translate(34.4 310.5) scale(1 1.0)" font-size="13" text-anchor="end" fill="#262626" stroke="#262626" stroke-width="0.08">15</text><text transform="translate(34.4 279.16) scale(1 1.0)" font-size="13" text-anchor="end" fill="#262626" stroke="#262626" stroke-width="0.08">20</text><text transform="translate(34.4 247.82) scale(1 1.0)" font-size="13" text-anchor="end" fill="#262626" stroke="#262626" stroke-width="0.08">25</text><text transform="translate(150.7 437.9) scale(1 1.0)" font-size="13.6" text-anchor="middle" fill="#262626" stroke="#262626" stroke-width="0.08">days on taurine</text><text x="0" y="0" font-size="13.5" text-anchor="middle" fill="#262626" stroke="#262626" stroke-width="0.08" transform="translate(15.2 326.2) rotate(-90)">cellular taurine (% total S)</text><path d="M50.9 398.5 L51.19 393.7 L51.48 389.34 L51.76 385.39 L52.05 381.81 L52.34 378.55 L52.63 375.6 L52.92 372.92 L53.2 370.48 L53.49 368.26 L53.78 366.24 L54.07 364.41 L54.36 362.74 L54.65 361.22 L54.93 359.83 L55.22 358.56 L55.51 357.4 L55.8 356.35 L56.09 355.38 L56.37 354.5 L56.66 353.68 L56.95 352.94 L57.24 352.25 L57.53 351.62 L57.81 351.04 L58.1 350.51 L58.39 350.01 L58.68 349.55 L58.97 349.12 L59.25 348.73 L59.54 348.36 L59.83 348.01 L60.12 347.69 L60.41 347.39 L60.7 347.1 L60.98 346.83 L61.27 346.58 L61.56 346.34 L61.85 346.11 L62.14 345.89 L62.42 345.69 L62.71 345.49 L63 345.3 L63.29 345.12 L63.58 344.94 L63.86 344.77 L64.15 344.61 L64.44 344.45 L64.73 344.29 L65.02 344.14 L65.31 343.99 L65.59 343.85 L65.88 343.71 L66.17 343.57 L66.46 343.43 L66.75 343.3 L67.03 343.17 L67.32 343.04 L67.61 342.91 L67.9 342.78 L67.9 342.78 L71.45 341.3 L75 339.88 L78.56 338.48 L82.11 337.08 L85.66 335.69 L89.22 334.3 L92.77 332.91 L96.32 331.52 L99.88 330.13 L103.43 328.74 L106.98 327.34 L110.54 325.95 L114.09 324.56 L117.64 323.17 L121.2 321.78 L124.75 320.39 L128.3 319 L131.86 317.61 L135.41 316.21 L138.96 314.82 L142.52 313.43 L146.07 312.04 L149.62 310.65 L153.18 309.26 L156.73 307.87 L160.28 306.48 L163.84 305.08 L167.39 303.69 L170.94 302.3 L174.5 300.91 L178.05 299.52 L181.6 298.13 L185.16 296.74 L188.71 295.35 L192.26 293.95 L195.82 292.56 L199.37 291.17 L202.92 289.78 L206.47 288.39 L210.03 287 L213.58 285.61 L217.13 284.21 L220.69 282.82 L224.24 281.43 L227.79 280.04 L231.35 278.65 L234.9 277.26 L238.45 275.87 L242.01 274.48 L245.56 273.08 L249.11 271.69 L252.67 270.3 L256.22 268.91 L259.77 267.52 L263.33 266.13 L266.88 264.74 L270.43 263.35 L273.99 261.95 L277.54 260.56" stroke="#222" stroke-width="1.4" fill="none"/><circle cx="50.9" cy="390.48" r="3.5" fill="#fff" stroke="#222" stroke-width="1.35"/><circle cx="54.7" cy="360.71" r="3.5" fill="#fff" stroke="#222" stroke-width="1.35"/><circle cx="67.33" cy="341.09" r="3.5" fill="#fff" stroke="#222" stroke-width="1.35"/><circle cx="79.23" cy="330.82" r="3.5" fill="#fff" stroke="#222" stroke-width="1.35"/><circle cx="135.89" cy="335.83" r="3.5" fill="#fff" stroke="#222" stroke-width="1.35"/><circle cx="192.55" cy="291.65" r="3.5" fill="#fff" stroke="#222" stroke-width="1.35"/><circle cx="249.21" cy="266.58" r="3.5" fill="#fff" stroke="#222" stroke-width="1.35"/><rect x="327.2" y="241.8" width="240.6" height="169" fill="none" stroke="#2a2a2a" stroke-width="1.5"/><path d="M396.51 410.8V406.8M396.51 241.8V245.8M435.17 410.8V406.8M435.17 241.8V245.8M461.79 410.8V406.8M461.79 241.8V245.8M483.42 410.8V406.8M483.42 241.8V245.8M493.07 410.8V406.8M493.07 241.8V245.8M502.13 410.8V406.8M502.13 241.8V245.8M518.85 410.8V406.8M518.85 241.8V245.8M526.64 410.8V406.8M526.64 241.8V245.8M534.11 410.8V406.8M534.11 241.8V245.8M548.23 410.8V406.8M548.23 241.8V245.8M554.94 410.8V406.8M554.94 241.8V245.8M561.44 410.8V406.8M561.44 241.8V245.8" stroke="#2a2a2a" stroke-width="1.3" fill="none"/><path d="M343.7 410.8V403.8M343.7 241.8V248.8M418.38 410.8V403.8M418.38 241.8V248.8M449.32 410.8V403.8M449.32 241.8V248.8M473.06 410.8V403.8M473.06 241.8V248.8M510.7 410.8V403.8M510.7 241.8V248.8M541.3 410.8V403.8M541.3 241.8V248.8" stroke="#2a2a2a" stroke-width="1.3" fill="none"/><path d="M327.2 400.9H334.2M567.8 400.9H560.8M327.2 365.65H334.2M567.8 365.65H560.8M327.2 330.4H334.2M567.8 330.4H560.8M327.2 295.15H334.2M567.8 295.15H560.8M327.2 259.9H334.2M567.8 259.9H560.8" stroke="#2a2a2a" stroke-width="1.3" fill="none"/><text transform="translate(343.7 425.4) scale(1 1.05)" font-size="13" text-anchor="middle" fill="#262626" stroke="#262626" stroke-width="0.08">0</text><text transform="translate(418.38 425.4) scale(1 1.05)" font-size="13" text-anchor="middle" fill="#262626" stroke="#262626" stroke-width="0.08">20</text><text transform="translate(449.32 425.4) scale(1 1.05)" font-size="13" text-anchor="middle" fill="#262626" stroke="#262626" stroke-width="0.08">40</text><text transform="translate(473.06 425.4) scale(1 1.05)" font-size="13" text-anchor="middle" fill="#262626" stroke="#262626" stroke-width="0.08">60</text><text transform="translate(510.7 425.4) scale(1 1.05)" font-size="13" text-anchor="middle" fill="#262626" stroke="#262626" stroke-width="0.08">100</text><text transform="translate(541.3 425.4) scale(1 1.05)" font-size="13" text-anchor="middle" fill="#262626" stroke="#262626" stroke-width="0.08">140</text><text transform="translate(567.75 425.4) scale(1 1.05)" font-size="13" text-anchor="middle" fill="#262626" stroke="#262626" stroke-width="0.08">180</text><text transform="translate(325 406.1) scale(1 1.0)" font-size="13" text-anchor="end" fill="#262626" stroke="#262626" stroke-width="0.08">0</text><text transform="translate(325 370.85) scale(1 1.0)" font-size="13" text-anchor="end" fill="#262626" stroke="#262626" stroke-width="0.08">10</text><text transform="translate(325 335.6) scale(1 1.0)" font-size="13" text-anchor="end" fill="#262626" stroke="#262626" stroke-width="0.08">20</text><text transform="translate(325 300.35) scale(1 1.0)" font-size="13" text-anchor="end" fill="#262626" stroke="#262626" stroke-width="0.08">30</text><text transform="translate(325 265.1) scale(1 1.0)" font-size="13" text-anchor="end" fill="#262626" stroke="#262626" stroke-width="0.08">40</text><text transform="translate(432.7 439.3) scale(1 1.0)" font-size="13.6" text-anchor="middle" fill="#262626" stroke="#262626" stroke-width="0.08">taurine (&#181;M)</text><text x="0" y="0" font-size="13.75" text-anchor="middle" fill="#262626" stroke="#262626" stroke-width="0.08" transform="translate(304.7 327.8) rotate(-90)">cellular taurine (% total S)</text><path d="M343.7 400.9 L345.31 400.85 L346.93 400.65 L348.54 400.27 L350.16 399.69 L351.77 398.9 L353.38 397.9 L355 396.69 L356.61 395.26 L358.23 393.62 L359.84 391.79 L361.45 389.76 L363.07 387.55 L364.68 385.18 L366.3 382.67 L367.91 380.02 L369.52 377.26 L371.14 374.41 L372.75 371.48 L374.37 368.49 L375.98 365.45 L377.59 362.39 L379.21 359.32 L380.82 356.24 L382.44 353.18 L384.05 350.14 L385.66 347.14 L387.28 344.18 L388.89 341.27 L390.5 338.42 L392.12 335.63 L393.73 332.91 L395.35 330.26 L396.96 327.68 L398.57 325.18 L400.19 322.75 L401.8 320.4 L403.42 318.12 L405.03 315.93 L406.64 313.8 L408.26 311.75 L409.87 309.78 L411.49 307.88 L413.1 306.04 L414.71 304.28 L416.33 302.58 L417.94 300.94 L419.56 299.37 L421.17 297.86 L422.78 296.41 L424.4 295.01 L426.01 293.66 L427.63 292.37 L429.24 291.13 L430.85 289.94 L432.47 288.79 L434.08 287.68 L435.7 286.62 L437.31 285.6 L438.92 284.62 L440.54 283.67 L442.15 282.76 L443.77 281.89 L445.38 281.05 L446.99 280.24 L448.61 279.46 L450.22 278.7 L451.84 277.98 L453.45 277.28 L455.06 276.61 L456.68 275.96 L458.29 275.34 L459.91 274.73 L461.52 274.15 L463.13 273.59 L464.75 273.05 L466.36 272.52 L467.97 272.02 L469.59 271.53 L471.2 271.06 L472.82 270.6 L474.43 270.16 L476.04 269.74 L477.66 269.33 L479.27 268.93 L480.89 268.54 L482.5 268.17 L484.11 267.81 L485.73 267.46 L487.34 267.12 L488.96 266.79 L490.57 266.47 L492.18 266.16 L493.8 265.86 L495.41 265.57 L497.03 265.29 L498.64 265.02 L500.25 264.76 L501.87 264.5 L503.48 264.25 L505.1 264.01 L506.71 263.77 L508.32 263.54 L509.94 263.32 L511.55 263.1 L513.17 262.89 L514.78 262.69 L516.39 262.49 L518.01 262.3 L519.62 262.11 L521.24 261.93 L522.85 261.75 L524.46 261.58 L526.08 261.41 L527.69 261.24 L529.31 261.08 L530.92 260.93 L532.53 260.78 L534.15 260.63 L535.76 260.48 L537.38 260.34 L538.99 260.21 L540.6 260.07 L542.22 259.94 L543.83 259.81 L545.44 259.69 L547.06 259.57 L548.67 259.45 L550.29 259.34 L551.9 259.22 L553.51 259.11 L555.13 259.01 L556.74 258.9 L558.36 258.8 L559.97 258.7 L561.58 258.6 L563.2 258.5 L564.81 258.41 L566.43 258.32" stroke="#222" stroke-width="1.4" fill="none"/><circle cx="343.7" cy="386.8" r="3.5" fill="#fff" stroke="#222" stroke-width="1.35"/><circle cx="364.49" cy="388.74" r="3.5" fill="#fff" stroke="#222" stroke-width="1.35"/><circle cx="408.59" cy="309.6" r="3.5" fill="#fff" stroke="#222" stroke-width="1.35"/><circle cx="548.23" cy="259.65" r="3.5" fill="#fff" stroke="#222" stroke-width="1.35"/></svg>
<div style="position:absolute;left:590px;top:0;width:1px;height:462px;background:#000"></div>
</body></html>
